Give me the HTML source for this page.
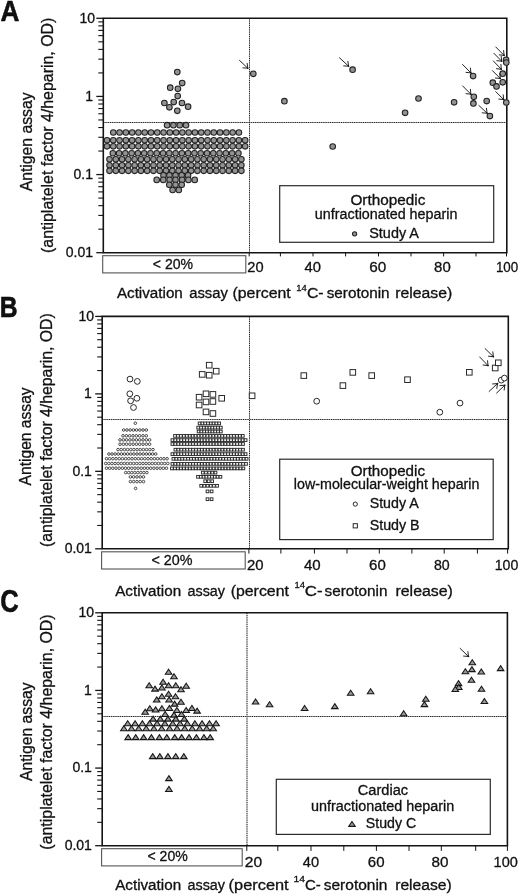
<!DOCTYPE html>
<html><head><meta charset="utf-8"><style>html,body{margin:0;padding:0;background:#fff;width:520px;height:894px;overflow:hidden}svg{display:block;filter:grayscale(1)}text{stroke:#111;stroke-width:0.3px}</style></head><body>
<svg width="520" height="894" viewBox="0 0 520 894" font-family='"Liberation Sans", sans-serif' fill="#111">
<rect width="520" height="894" fill="#fff"/>
<text transform="translate(0.470,20.775) scale(0.2619,0.2877)" font-size="100" font-weight="bold" style="stroke:#000;stroke-width:1.72px;stroke-linejoin:round">A</text>
<text transform="translate(-0.179,317.275) scale(0.2467,0.2862)" font-size="100" font-weight="bold" style="stroke:#000;stroke-width:1.82px;stroke-linejoin:round">B</text>
<text transform="translate(0.202,611.967) scale(0.2557,0.3077)" font-size="100" font-weight="bold" style="stroke:#000;stroke-width:1.76px;stroke-linejoin:round">C</text>
<line x1="103.3" y1="122.5" x2="506.8" y2="122.5" stroke="#bdbdbd" stroke-width="1"/>
<line x1="103.3" y1="122.5" x2="506.8" y2="122.5" stroke="#222" stroke-width="1" stroke-dasharray="1.2 1"/>
<line x1="249.5" y1="18.3" x2="249.5" y2="252.7" stroke="#cfcfcf" stroke-width="1"/>
<line x1="249.5" y1="18.3" x2="249.5" y2="252.7" stroke="#222" stroke-width="1" stroke-dasharray="1.2 1"/>
<path d="M103.3 252.7 V18.3 H506.8 V252.7 Z" fill="none" stroke="#141414" stroke-width="1.6"/>
<line x1="96.3" y1="252.70" x2="103.3" y2="252.70" stroke="#141414" stroke-width="1.3"/>
<line x1="98.3" y1="229.18" x2="103.3" y2="229.18" stroke="#141414" stroke-width="1.1"/>
<line x1="98.3" y1="215.42" x2="103.3" y2="215.42" stroke="#141414" stroke-width="1.1"/>
<line x1="98.3" y1="205.66" x2="103.3" y2="205.66" stroke="#141414" stroke-width="1.1"/>
<line x1="98.3" y1="198.09" x2="103.3" y2="198.09" stroke="#141414" stroke-width="1.1"/>
<line x1="98.3" y1="191.90" x2="103.3" y2="191.90" stroke="#141414" stroke-width="1.1"/>
<line x1="98.3" y1="186.67" x2="103.3" y2="186.67" stroke="#141414" stroke-width="1.1"/>
<line x1="98.3" y1="182.14" x2="103.3" y2="182.14" stroke="#141414" stroke-width="1.1"/>
<line x1="98.3" y1="178.14" x2="103.3" y2="178.14" stroke="#141414" stroke-width="1.1"/>
<line x1="96.3" y1="174.57" x2="103.3" y2="174.57" stroke="#141414" stroke-width="1.3"/>
<line x1="98.3" y1="151.05" x2="103.3" y2="151.05" stroke="#141414" stroke-width="1.1"/>
<line x1="98.3" y1="137.29" x2="103.3" y2="137.29" stroke="#141414" stroke-width="1.1"/>
<line x1="98.3" y1="127.53" x2="103.3" y2="127.53" stroke="#141414" stroke-width="1.1"/>
<line x1="98.3" y1="119.95" x2="103.3" y2="119.95" stroke="#141414" stroke-width="1.1"/>
<line x1="98.3" y1="113.77" x2="103.3" y2="113.77" stroke="#141414" stroke-width="1.1"/>
<line x1="98.3" y1="108.54" x2="103.3" y2="108.54" stroke="#141414" stroke-width="1.1"/>
<line x1="98.3" y1="104.01" x2="103.3" y2="104.01" stroke="#141414" stroke-width="1.1"/>
<line x1="98.3" y1="100.01" x2="103.3" y2="100.01" stroke="#141414" stroke-width="1.1"/>
<line x1="96.3" y1="96.43" x2="103.3" y2="96.43" stroke="#141414" stroke-width="1.3"/>
<line x1="98.3" y1="72.91" x2="103.3" y2="72.91" stroke="#141414" stroke-width="1.1"/>
<line x1="98.3" y1="59.15" x2="103.3" y2="59.15" stroke="#141414" stroke-width="1.1"/>
<line x1="98.3" y1="49.39" x2="103.3" y2="49.39" stroke="#141414" stroke-width="1.1"/>
<line x1="98.3" y1="41.82" x2="103.3" y2="41.82" stroke="#141414" stroke-width="1.1"/>
<line x1="98.3" y1="35.63" x2="103.3" y2="35.63" stroke="#141414" stroke-width="1.1"/>
<line x1="98.3" y1="30.40" x2="103.3" y2="30.40" stroke="#141414" stroke-width="1.1"/>
<line x1="98.3" y1="25.87" x2="103.3" y2="25.87" stroke="#141414" stroke-width="1.1"/>
<line x1="98.3" y1="21.88" x2="103.3" y2="21.88" stroke="#141414" stroke-width="1.1"/>
<line x1="96.3" y1="18.30" x2="103.3" y2="18.30" stroke="#141414" stroke-width="1.3"/>
<line x1="249.20" y1="252.7" x2="249.20" y2="256.4" stroke="#141414" stroke-width="1.0"/>
<line x1="280.40" y1="252.7" x2="280.40" y2="256.4" stroke="#141414" stroke-width="1.0"/>
<line x1="313.00" y1="252.7" x2="313.00" y2="256.4" stroke="#141414" stroke-width="1.0"/>
<line x1="345.60" y1="252.7" x2="345.60" y2="256.4" stroke="#141414" stroke-width="1.0"/>
<line x1="378.50" y1="252.7" x2="378.50" y2="256.4" stroke="#141414" stroke-width="1.0"/>
<line x1="411.00" y1="252.7" x2="411.00" y2="256.4" stroke="#141414" stroke-width="1.0"/>
<line x1="443.60" y1="252.7" x2="443.60" y2="256.4" stroke="#141414" stroke-width="1.0"/>
<line x1="476.00" y1="252.7" x2="476.00" y2="256.4" stroke="#141414" stroke-width="1.0"/>
<line x1="506.50" y1="252.7" x2="506.50" y2="256.4" stroke="#141414" stroke-width="1.0"/>
<text x="95.10" y="22.50" font-size="14" text-anchor="end">10</text>
<text x="93.00" y="100.63" font-size="14" text-anchor="end">1</text>
<text x="93.00" y="178.77" font-size="14" text-anchor="end">0.1</text>
<text x="93.00" y="256.90" font-size="14" text-anchor="end">0.01</text>
<text x="247.27" y="271.50" font-size="14.5" textLength="16.28" lengthAdjust="spacingAndGlyphs">20</text>
<text x="304.60" y="271.50" font-size="14.5" textLength="16.45" lengthAdjust="spacingAndGlyphs">40</text>
<text x="369.33" y="271.50" font-size="14.5" textLength="17.04" lengthAdjust="spacingAndGlyphs">60</text>
<text x="434.13" y="271.50" font-size="14.5" textLength="16.63" lengthAdjust="spacingAndGlyphs">80</text>
<text x="495.90" y="271.50" font-size="14.5" textLength="22.32" lengthAdjust="spacingAndGlyphs">100</text>
<rect x="102.7" y="255.70" width="143.10" height="17.2" fill="none" stroke="#555" stroke-width="1.1"/>
<text x="152.80" y="269.30" font-size="14.5" textLength="40.27" lengthAdjust="spacingAndGlyphs">&lt; 20%</text>
<text transform="translate(31.80,191.30) rotate(-90)" font-size="16" textLength="98.93" lengthAdjust="spacingAndGlyphs">Antigen assay</text>
<text transform="translate(52.50,252.95) rotate(-90)" font-size="16" textLength="235.30" lengthAdjust="spacingAndGlyphs">(antiplatelet factor 4/heparin, OD)</text>
<text x="116.90" y="298.20" font-size="14" textLength="65.90" lengthAdjust="spacingAndGlyphs">Activation</text>
<text x="189.21" y="298.20" font-size="14" textLength="38.63" lengthAdjust="spacingAndGlyphs">assay</text>
<text x="232.45" y="298.20" font-size="14" textLength="58.29" lengthAdjust="spacingAndGlyphs">(percent</text>
<text x="306.91" y="298.20" font-size="14" textLength="16.71" lengthAdjust="spacingAndGlyphs">C-</text>
<text x="326.74" y="298.20" font-size="14" textLength="62.83" lengthAdjust="spacingAndGlyphs">serotonin</text>
<text x="395.17" y="298.20" font-size="14" textLength="57.02" lengthAdjust="spacingAndGlyphs">release)</text>
<text x="296.19" y="290.60" font-size="9.8" textLength="10.51" lengthAdjust="spacingAndGlyphs">14</text>
<rect x="279.7" y="185.7" width="214" height="56.6" fill="#fff" stroke="#2a2a2a" stroke-width="1.2"/>
<text x="350.41" y="204.80" font-size="14" textLength="75.00" lengthAdjust="spacingAndGlyphs">Orthopedic</text>
<text x="314.87" y="219.20" font-size="14" textLength="142.49" lengthAdjust="spacingAndGlyphs">unfractionated heparin</text>
<text x="369.25" y="237.50" font-size="14" textLength="49.68" lengthAdjust="spacingAndGlyphs">Study A</text>
<circle cx="354.6" cy="233.8" r="2.1" fill="#939393" stroke="#222" stroke-width="1.05"/>
<circle cx="177.3" cy="72.1" r="2.8" fill="#939393" stroke="#222" stroke-width="1.05"/>
<circle cx="182.2" cy="83.1" r="2.8" fill="#939393" stroke="#222" stroke-width="1.05"/>
<circle cx="170.2" cy="87.7" r="2.8" fill="#939393" stroke="#222" stroke-width="1.05"/>
<circle cx="177.9" cy="88.8" r="2.8" fill="#939393" stroke="#222" stroke-width="1.05"/>
<circle cx="177.7" cy="96.1" r="2.8" fill="#939393" stroke="#222" stroke-width="1.05"/>
<circle cx="164.4" cy="103" r="2.8" fill="#939393" stroke="#222" stroke-width="1.05"/>
<circle cx="173.7" cy="102.1" r="2.8" fill="#939393" stroke="#222" stroke-width="1.05"/>
<circle cx="182" cy="103" r="2.8" fill="#939393" stroke="#222" stroke-width="1.05"/>
<circle cx="169.4" cy="107.3" r="2.8" fill="#939393" stroke="#222" stroke-width="1.05"/>
<circle cx="188.1" cy="106.7" r="2.8" fill="#939393" stroke="#222" stroke-width="1.05"/>
<circle cx="177.3" cy="110.8" r="2.8" fill="#939393" stroke="#222" stroke-width="1.05"/>
<circle cx="167.1" cy="125.2" r="2.8" fill="#939393" stroke="#222" stroke-width="1.05"/>
<circle cx="173.4" cy="125.2" r="2.8" fill="#939393" stroke="#222" stroke-width="1.05"/>
<circle cx="179.7" cy="125.2" r="2.8" fill="#939393" stroke="#222" stroke-width="1.05"/>
<circle cx="186" cy="125.2" r="2.8" fill="#939393" stroke="#222" stroke-width="1.05"/>
<circle cx="113.3" cy="132.5" r="2.8" fill="#939393" stroke="#222" stroke-width="1.05"/>
<circle cx="119.58" cy="132.5" r="2.8" fill="#939393" stroke="#222" stroke-width="1.05"/>
<circle cx="125.86" cy="132.5" r="2.8" fill="#939393" stroke="#222" stroke-width="1.05"/>
<circle cx="132.14" cy="132.5" r="2.8" fill="#939393" stroke="#222" stroke-width="1.05"/>
<circle cx="138.42" cy="132.5" r="2.8" fill="#939393" stroke="#222" stroke-width="1.05"/>
<circle cx="144.7" cy="132.5" r="2.8" fill="#939393" stroke="#222" stroke-width="1.05"/>
<circle cx="150.98" cy="132.5" r="2.8" fill="#939393" stroke="#222" stroke-width="1.05"/>
<circle cx="157.26" cy="132.5" r="2.8" fill="#939393" stroke="#222" stroke-width="1.05"/>
<circle cx="163.54" cy="132.5" r="2.8" fill="#939393" stroke="#222" stroke-width="1.05"/>
<circle cx="169.82" cy="132.5" r="2.8" fill="#939393" stroke="#222" stroke-width="1.05"/>
<circle cx="176.1" cy="132.5" r="2.8" fill="#939393" stroke="#222" stroke-width="1.05"/>
<circle cx="182.38" cy="132.5" r="2.8" fill="#939393" stroke="#222" stroke-width="1.05"/>
<circle cx="188.66" cy="132.5" r="2.8" fill="#939393" stroke="#222" stroke-width="1.05"/>
<circle cx="194.94" cy="132.5" r="2.8" fill="#939393" stroke="#222" stroke-width="1.05"/>
<circle cx="201.22" cy="132.5" r="2.8" fill="#939393" stroke="#222" stroke-width="1.05"/>
<circle cx="207.5" cy="132.5" r="2.8" fill="#939393" stroke="#222" stroke-width="1.05"/>
<circle cx="213.78" cy="132.5" r="2.8" fill="#939393" stroke="#222" stroke-width="1.05"/>
<circle cx="220.06" cy="132.5" r="2.8" fill="#939393" stroke="#222" stroke-width="1.05"/>
<circle cx="226.34" cy="132.5" r="2.8" fill="#939393" stroke="#222" stroke-width="1.05"/>
<circle cx="232.62" cy="132.5" r="2.8" fill="#939393" stroke="#222" stroke-width="1.05"/>
<circle cx="238.9" cy="132.5" r="2.8" fill="#939393" stroke="#222" stroke-width="1.05"/>
<circle cx="107.0" cy="140.3" r="2.8" fill="#939393" stroke="#222" stroke-width="1.05"/>
<circle cx="113.28" cy="140.3" r="2.8" fill="#939393" stroke="#222" stroke-width="1.05"/>
<circle cx="119.56" cy="140.3" r="2.8" fill="#939393" stroke="#222" stroke-width="1.05"/>
<circle cx="125.84" cy="140.3" r="2.8" fill="#939393" stroke="#222" stroke-width="1.05"/>
<circle cx="132.12" cy="140.3" r="2.8" fill="#939393" stroke="#222" stroke-width="1.05"/>
<circle cx="138.4" cy="140.3" r="2.8" fill="#939393" stroke="#222" stroke-width="1.05"/>
<circle cx="144.68" cy="140.3" r="2.8" fill="#939393" stroke="#222" stroke-width="1.05"/>
<circle cx="150.96" cy="140.3" r="2.8" fill="#939393" stroke="#222" stroke-width="1.05"/>
<circle cx="157.24" cy="140.3" r="2.8" fill="#939393" stroke="#222" stroke-width="1.05"/>
<circle cx="163.52" cy="140.3" r="2.8" fill="#939393" stroke="#222" stroke-width="1.05"/>
<circle cx="169.8" cy="140.3" r="2.8" fill="#939393" stroke="#222" stroke-width="1.05"/>
<circle cx="176.08" cy="140.3" r="2.8" fill="#939393" stroke="#222" stroke-width="1.05"/>
<circle cx="182.36" cy="140.3" r="2.8" fill="#939393" stroke="#222" stroke-width="1.05"/>
<circle cx="188.64" cy="140.3" r="2.8" fill="#939393" stroke="#222" stroke-width="1.05"/>
<circle cx="194.92" cy="140.3" r="2.8" fill="#939393" stroke="#222" stroke-width="1.05"/>
<circle cx="201.2" cy="140.3" r="2.8" fill="#939393" stroke="#222" stroke-width="1.05"/>
<circle cx="207.48" cy="140.3" r="2.8" fill="#939393" stroke="#222" stroke-width="1.05"/>
<circle cx="213.76" cy="140.3" r="2.8" fill="#939393" stroke="#222" stroke-width="1.05"/>
<circle cx="220.04" cy="140.3" r="2.8" fill="#939393" stroke="#222" stroke-width="1.05"/>
<circle cx="226.32" cy="140.3" r="2.8" fill="#939393" stroke="#222" stroke-width="1.05"/>
<circle cx="232.6" cy="140.3" r="2.8" fill="#939393" stroke="#222" stroke-width="1.05"/>
<circle cx="238.88" cy="140.3" r="2.8" fill="#939393" stroke="#222" stroke-width="1.05"/>
<circle cx="245.16" cy="140.3" r="2.8" fill="#939393" stroke="#222" stroke-width="1.05"/>
<circle cx="107.0" cy="146.3" r="2.8" fill="#939393" stroke="#222" stroke-width="1.05"/>
<circle cx="113.28" cy="146.3" r="2.8" fill="#939393" stroke="#222" stroke-width="1.05"/>
<circle cx="119.56" cy="146.3" r="2.8" fill="#939393" stroke="#222" stroke-width="1.05"/>
<circle cx="125.84" cy="146.3" r="2.8" fill="#939393" stroke="#222" stroke-width="1.05"/>
<circle cx="132.12" cy="146.3" r="2.8" fill="#939393" stroke="#222" stroke-width="1.05"/>
<circle cx="138.4" cy="146.3" r="2.8" fill="#939393" stroke="#222" stroke-width="1.05"/>
<circle cx="144.68" cy="146.3" r="2.8" fill="#939393" stroke="#222" stroke-width="1.05"/>
<circle cx="150.96" cy="146.3" r="2.8" fill="#939393" stroke="#222" stroke-width="1.05"/>
<circle cx="157.24" cy="146.3" r="2.8" fill="#939393" stroke="#222" stroke-width="1.05"/>
<circle cx="163.52" cy="146.3" r="2.8" fill="#939393" stroke="#222" stroke-width="1.05"/>
<circle cx="169.8" cy="146.3" r="2.8" fill="#939393" stroke="#222" stroke-width="1.05"/>
<circle cx="176.08" cy="146.3" r="2.8" fill="#939393" stroke="#222" stroke-width="1.05"/>
<circle cx="182.36" cy="146.3" r="2.8" fill="#939393" stroke="#222" stroke-width="1.05"/>
<circle cx="188.64" cy="146.3" r="2.8" fill="#939393" stroke="#222" stroke-width="1.05"/>
<circle cx="194.92" cy="146.3" r="2.8" fill="#939393" stroke="#222" stroke-width="1.05"/>
<circle cx="201.2" cy="146.3" r="2.8" fill="#939393" stroke="#222" stroke-width="1.05"/>
<circle cx="207.48" cy="146.3" r="2.8" fill="#939393" stroke="#222" stroke-width="1.05"/>
<circle cx="213.76" cy="146.3" r="2.8" fill="#939393" stroke="#222" stroke-width="1.05"/>
<circle cx="220.04" cy="146.3" r="2.8" fill="#939393" stroke="#222" stroke-width="1.05"/>
<circle cx="226.32" cy="146.3" r="2.8" fill="#939393" stroke="#222" stroke-width="1.05"/>
<circle cx="232.6" cy="146.3" r="2.8" fill="#939393" stroke="#222" stroke-width="1.05"/>
<circle cx="238.88" cy="146.3" r="2.8" fill="#939393" stroke="#222" stroke-width="1.05"/>
<circle cx="245.16" cy="146.3" r="2.8" fill="#939393" stroke="#222" stroke-width="1.05"/>
<circle cx="112.8" cy="153.2" r="2.8" fill="#939393" stroke="#222" stroke-width="1.05"/>
<circle cx="119.08" cy="153.2" r="2.8" fill="#939393" stroke="#222" stroke-width="1.05"/>
<circle cx="125.36" cy="153.2" r="2.8" fill="#939393" stroke="#222" stroke-width="1.05"/>
<circle cx="131.64" cy="153.2" r="2.8" fill="#939393" stroke="#222" stroke-width="1.05"/>
<circle cx="137.92" cy="153.2" r="2.8" fill="#939393" stroke="#222" stroke-width="1.05"/>
<circle cx="144.2" cy="153.2" r="2.8" fill="#939393" stroke="#222" stroke-width="1.05"/>
<circle cx="150.48" cy="153.2" r="2.8" fill="#939393" stroke="#222" stroke-width="1.05"/>
<circle cx="156.76" cy="153.2" r="2.8" fill="#939393" stroke="#222" stroke-width="1.05"/>
<circle cx="163.04" cy="153.2" r="2.8" fill="#939393" stroke="#222" stroke-width="1.05"/>
<circle cx="169.32" cy="153.2" r="2.8" fill="#939393" stroke="#222" stroke-width="1.05"/>
<circle cx="175.6" cy="153.2" r="2.8" fill="#939393" stroke="#222" stroke-width="1.05"/>
<circle cx="181.88" cy="153.2" r="2.8" fill="#939393" stroke="#222" stroke-width="1.05"/>
<circle cx="188.16" cy="153.2" r="2.8" fill="#939393" stroke="#222" stroke-width="1.05"/>
<circle cx="194.44" cy="153.2" r="2.8" fill="#939393" stroke="#222" stroke-width="1.05"/>
<circle cx="200.72" cy="153.2" r="2.8" fill="#939393" stroke="#222" stroke-width="1.05"/>
<circle cx="207.0" cy="153.2" r="2.8" fill="#939393" stroke="#222" stroke-width="1.05"/>
<circle cx="213.28" cy="153.2" r="2.8" fill="#939393" stroke="#222" stroke-width="1.05"/>
<circle cx="219.56" cy="153.2" r="2.8" fill="#939393" stroke="#222" stroke-width="1.05"/>
<circle cx="225.84" cy="153.2" r="2.8" fill="#939393" stroke="#222" stroke-width="1.05"/>
<circle cx="232.12" cy="153.2" r="2.8" fill="#939393" stroke="#222" stroke-width="1.05"/>
<circle cx="238.4" cy="153.2" r="2.8" fill="#939393" stroke="#222" stroke-width="1.05"/>
<circle cx="109.5" cy="159.2" r="2.8" fill="#939393" stroke="#222" stroke-width="1.05"/>
<circle cx="115.78" cy="159.2" r="2.8" fill="#939393" stroke="#222" stroke-width="1.05"/>
<circle cx="122.06" cy="159.2" r="2.8" fill="#939393" stroke="#222" stroke-width="1.05"/>
<circle cx="128.34" cy="159.2" r="2.8" fill="#939393" stroke="#222" stroke-width="1.05"/>
<circle cx="134.62" cy="159.2" r="2.8" fill="#939393" stroke="#222" stroke-width="1.05"/>
<circle cx="140.9" cy="159.2" r="2.8" fill="#939393" stroke="#222" stroke-width="1.05"/>
<circle cx="147.18" cy="159.2" r="2.8" fill="#939393" stroke="#222" stroke-width="1.05"/>
<circle cx="153.46" cy="159.2" r="2.8" fill="#939393" stroke="#222" stroke-width="1.05"/>
<circle cx="159.74" cy="159.2" r="2.8" fill="#939393" stroke="#222" stroke-width="1.05"/>
<circle cx="166.02" cy="159.2" r="2.8" fill="#939393" stroke="#222" stroke-width="1.05"/>
<circle cx="172.3" cy="159.2" r="2.8" fill="#939393" stroke="#222" stroke-width="1.05"/>
<circle cx="178.58" cy="159.2" r="2.8" fill="#939393" stroke="#222" stroke-width="1.05"/>
<circle cx="184.86" cy="159.2" r="2.8" fill="#939393" stroke="#222" stroke-width="1.05"/>
<circle cx="191.14" cy="159.2" r="2.8" fill="#939393" stroke="#222" stroke-width="1.05"/>
<circle cx="197.42" cy="159.2" r="2.8" fill="#939393" stroke="#222" stroke-width="1.05"/>
<circle cx="203.7" cy="159.2" r="2.8" fill="#939393" stroke="#222" stroke-width="1.05"/>
<circle cx="209.98" cy="159.2" r="2.8" fill="#939393" stroke="#222" stroke-width="1.05"/>
<circle cx="216.26" cy="159.2" r="2.8" fill="#939393" stroke="#222" stroke-width="1.05"/>
<circle cx="222.54" cy="159.2" r="2.8" fill="#939393" stroke="#222" stroke-width="1.05"/>
<circle cx="228.82" cy="159.2" r="2.8" fill="#939393" stroke="#222" stroke-width="1.05"/>
<circle cx="235.1" cy="159.2" r="2.8" fill="#939393" stroke="#222" stroke-width="1.05"/>
<circle cx="241.38" cy="159.2" r="2.8" fill="#939393" stroke="#222" stroke-width="1.05"/>
<circle cx="109.5" cy="165.2" r="2.8" fill="#939393" stroke="#222" stroke-width="1.05"/>
<circle cx="115.78" cy="165.2" r="2.8" fill="#939393" stroke="#222" stroke-width="1.05"/>
<circle cx="122.06" cy="165.2" r="2.8" fill="#939393" stroke="#222" stroke-width="1.05"/>
<circle cx="128.34" cy="165.2" r="2.8" fill="#939393" stroke="#222" stroke-width="1.05"/>
<circle cx="134.62" cy="165.2" r="2.8" fill="#939393" stroke="#222" stroke-width="1.05"/>
<circle cx="140.9" cy="165.2" r="2.8" fill="#939393" stroke="#222" stroke-width="1.05"/>
<circle cx="147.18" cy="165.2" r="2.8" fill="#939393" stroke="#222" stroke-width="1.05"/>
<circle cx="153.46" cy="165.2" r="2.8" fill="#939393" stroke="#222" stroke-width="1.05"/>
<circle cx="159.74" cy="165.2" r="2.8" fill="#939393" stroke="#222" stroke-width="1.05"/>
<circle cx="166.02" cy="165.2" r="2.8" fill="#939393" stroke="#222" stroke-width="1.05"/>
<circle cx="172.3" cy="165.2" r="2.8" fill="#939393" stroke="#222" stroke-width="1.05"/>
<circle cx="178.58" cy="165.2" r="2.8" fill="#939393" stroke="#222" stroke-width="1.05"/>
<circle cx="184.86" cy="165.2" r="2.8" fill="#939393" stroke="#222" stroke-width="1.05"/>
<circle cx="191.14" cy="165.2" r="2.8" fill="#939393" stroke="#222" stroke-width="1.05"/>
<circle cx="197.42" cy="165.2" r="2.8" fill="#939393" stroke="#222" stroke-width="1.05"/>
<circle cx="203.7" cy="165.2" r="2.8" fill="#939393" stroke="#222" stroke-width="1.05"/>
<circle cx="209.98" cy="165.2" r="2.8" fill="#939393" stroke="#222" stroke-width="1.05"/>
<circle cx="216.26" cy="165.2" r="2.8" fill="#939393" stroke="#222" stroke-width="1.05"/>
<circle cx="222.54" cy="165.2" r="2.8" fill="#939393" stroke="#222" stroke-width="1.05"/>
<circle cx="228.82" cy="165.2" r="2.8" fill="#939393" stroke="#222" stroke-width="1.05"/>
<circle cx="235.1" cy="165.2" r="2.8" fill="#939393" stroke="#222" stroke-width="1.05"/>
<circle cx="241.38" cy="165.2" r="2.8" fill="#939393" stroke="#222" stroke-width="1.05"/>
<circle cx="109.5" cy="170.8" r="2.8" fill="#939393" stroke="#222" stroke-width="1.05"/>
<circle cx="115.78" cy="170.8" r="2.8" fill="#939393" stroke="#222" stroke-width="1.05"/>
<circle cx="122.06" cy="170.8" r="2.8" fill="#939393" stroke="#222" stroke-width="1.05"/>
<circle cx="128.34" cy="170.8" r="2.8" fill="#939393" stroke="#222" stroke-width="1.05"/>
<circle cx="134.62" cy="170.8" r="2.8" fill="#939393" stroke="#222" stroke-width="1.05"/>
<circle cx="140.9" cy="170.8" r="2.8" fill="#939393" stroke="#222" stroke-width="1.05"/>
<circle cx="147.18" cy="170.8" r="2.8" fill="#939393" stroke="#222" stroke-width="1.05"/>
<circle cx="153.46" cy="170.8" r="2.8" fill="#939393" stroke="#222" stroke-width="1.05"/>
<circle cx="159.74" cy="170.8" r="2.8" fill="#939393" stroke="#222" stroke-width="1.05"/>
<circle cx="166.02" cy="170.8" r="2.8" fill="#939393" stroke="#222" stroke-width="1.05"/>
<circle cx="172.3" cy="170.8" r="2.8" fill="#939393" stroke="#222" stroke-width="1.05"/>
<circle cx="178.58" cy="170.8" r="2.8" fill="#939393" stroke="#222" stroke-width="1.05"/>
<circle cx="184.86" cy="170.8" r="2.8" fill="#939393" stroke="#222" stroke-width="1.05"/>
<circle cx="191.14" cy="170.8" r="2.8" fill="#939393" stroke="#222" stroke-width="1.05"/>
<circle cx="197.42" cy="170.8" r="2.8" fill="#939393" stroke="#222" stroke-width="1.05"/>
<circle cx="203.7" cy="170.8" r="2.8" fill="#939393" stroke="#222" stroke-width="1.05"/>
<circle cx="209.98" cy="170.8" r="2.8" fill="#939393" stroke="#222" stroke-width="1.05"/>
<circle cx="216.26" cy="170.8" r="2.8" fill="#939393" stroke="#222" stroke-width="1.05"/>
<circle cx="222.54" cy="170.8" r="2.8" fill="#939393" stroke="#222" stroke-width="1.05"/>
<circle cx="228.82" cy="170.8" r="2.8" fill="#939393" stroke="#222" stroke-width="1.05"/>
<circle cx="235.1" cy="170.8" r="2.8" fill="#939393" stroke="#222" stroke-width="1.05"/>
<circle cx="241.38" cy="170.8" r="2.8" fill="#939393" stroke="#222" stroke-width="1.05"/>
<circle cx="163.5" cy="175.4" r="2.8" fill="#939393" stroke="#222" stroke-width="1.05"/>
<circle cx="169.4" cy="175.4" r="2.8" fill="#939393" stroke="#222" stroke-width="1.05"/>
<circle cx="175.5" cy="175.4" r="2.8" fill="#939393" stroke="#222" stroke-width="1.05"/>
<circle cx="181.7" cy="175.4" r="2.8" fill="#939393" stroke="#222" stroke-width="1.05"/>
<circle cx="188" cy="175.4" r="2.8" fill="#939393" stroke="#222" stroke-width="1.05"/>
<circle cx="156.7" cy="179.9" r="2.8" fill="#939393" stroke="#222" stroke-width="1.05"/>
<circle cx="163.3" cy="179.9" r="2.8" fill="#939393" stroke="#222" stroke-width="1.05"/>
<circle cx="169.6" cy="179.9" r="2.8" fill="#939393" stroke="#222" stroke-width="1.05"/>
<circle cx="175.5" cy="179.9" r="2.8" fill="#939393" stroke="#222" stroke-width="1.05"/>
<circle cx="182.1" cy="179.9" r="2.8" fill="#939393" stroke="#222" stroke-width="1.05"/>
<circle cx="188.4" cy="179.9" r="2.8" fill="#939393" stroke="#222" stroke-width="1.05"/>
<circle cx="194.7" cy="179.9" r="2.8" fill="#939393" stroke="#222" stroke-width="1.05"/>
<circle cx="169.3" cy="184.7" r="2.8" fill="#939393" stroke="#222" stroke-width="1.05"/>
<circle cx="175.5" cy="184.7" r="2.8" fill="#939393" stroke="#222" stroke-width="1.05"/>
<circle cx="181.7" cy="184.7" r="2.8" fill="#939393" stroke="#222" stroke-width="1.05"/>
<circle cx="172.6" cy="190.0" r="2.8" fill="#939393" stroke="#222" stroke-width="1.05"/>
<circle cx="178.8" cy="190.0" r="2.8" fill="#939393" stroke="#222" stroke-width="1.05"/>
<circle cx="253.3" cy="73.8" r="2.8" fill="#939393" stroke="#222" stroke-width="1.05"/>
<circle cx="352.6" cy="69.7" r="2.8" fill="#939393" stroke="#222" stroke-width="1.05"/>
<circle cx="284.4" cy="101.2" r="2.8" fill="#939393" stroke="#222" stroke-width="1.05"/>
<circle cx="332.7" cy="146.5" r="2.8" fill="#939393" stroke="#222" stroke-width="1.05"/>
<circle cx="405.1" cy="112.8" r="2.8" fill="#939393" stroke="#222" stroke-width="1.05"/>
<circle cx="418.5" cy="98.5" r="2.8" fill="#939393" stroke="#222" stroke-width="1.05"/>
<circle cx="454.1" cy="102.3" r="2.8" fill="#939393" stroke="#222" stroke-width="1.05"/>
<circle cx="473.1" cy="76.1" r="2.8" fill="#939393" stroke="#222" stroke-width="1.05"/>
<circle cx="473.8" cy="96.8" r="2.8" fill="#939393" stroke="#222" stroke-width="1.05"/>
<circle cx="473.4" cy="103.4" r="2.8" fill="#939393" stroke="#222" stroke-width="1.05"/>
<circle cx="486.7" cy="101.1" r="2.8" fill="#939393" stroke="#222" stroke-width="1.05"/>
<circle cx="489.9" cy="116.1" r="2.8" fill="#939393" stroke="#222" stroke-width="1.05"/>
<circle cx="492.8" cy="82.7" r="2.8" fill="#939393" stroke="#222" stroke-width="1.05"/>
<circle cx="496.5" cy="86.4" r="2.8" fill="#939393" stroke="#222" stroke-width="1.05"/>
<circle cx="502.7" cy="73.7" r="2.8" fill="#939393" stroke="#222" stroke-width="1.05"/>
<circle cx="502.7" cy="82.3" r="2.8" fill="#939393" stroke="#222" stroke-width="1.05"/>
<circle cx="506.1" cy="59.7" r="2.8" fill="#939393" stroke="#222" stroke-width="1.05"/>
<circle cx="506.3" cy="62.6" r="2.8" fill="#939393" stroke="#222" stroke-width="1.05"/>
<circle cx="506.3" cy="102.5" r="2.8" fill="#939393" stroke="#222" stroke-width="1.05"/>
<path d="M239.2 60.1 L247.8 68.2 M242.52 67.80 L247.8 68.2 L247.08 62.95" fill="none" stroke="#1a1a1a" stroke-width="0.95" stroke-linejoin="round"/>
<circle cx="247.8" cy="68.2" r="0.8" fill="#111"/>
<path d="M339.2 57.5 L348.6 66.2 M343.31 65.85 L348.6 66.2 L347.84 60.95" fill="none" stroke="#1a1a1a" stroke-width="0.95" stroke-linejoin="round"/>
<circle cx="348.6" cy="66.2" r="0.8" fill="#111"/>
<path d="M462.3 64.2 L470.9 72.9 M465.63 72.31 L470.9 72.9 L470.37 67.63" fill="none" stroke="#1a1a1a" stroke-width="0.95" stroke-linejoin="round"/>
<circle cx="470.9" cy="72.9" r="0.8" fill="#111"/>
<path d="M462.3 85.6 L470.9 94.2 M465.63 93.64 L470.9 94.2 L470.34 88.93" fill="none" stroke="#1a1a1a" stroke-width="0.95" stroke-linejoin="round"/>
<circle cx="470.9" cy="94.2" r="0.8" fill="#111"/>
<path d="M478.6 105.2 L487.1 113.2 M481.81 112.80 L487.1 113.2 L486.38 107.95" fill="none" stroke="#1a1a1a" stroke-width="0.95" stroke-linejoin="round"/>
<circle cx="487.1" cy="113.2" r="0.8" fill="#111"/>
<path d="M495.5 46.7 L504.1 55.4 M498.83 54.81 L504.1 55.4 L503.57 50.13" fill="none" stroke="#1a1a1a" stroke-width="0.95" stroke-linejoin="round"/>
<circle cx="504.1" cy="55.4" r="0.8" fill="#111"/>
<path d="M493.6 53.0 L501.7 61.2 M496.43 60.61 L501.7 61.2 L501.17 55.93" fill="none" stroke="#1a1a1a" stroke-width="0.95" stroke-linejoin="round"/>
<circle cx="501.7" cy="61.2" r="0.8" fill="#111"/>
<path d="M493.1 60.7 L501.3 69.3 M496.04 68.62 L501.3 69.3 L500.87 64.02" fill="none" stroke="#1a1a1a" stroke-width="0.95" stroke-linejoin="round"/>
<circle cx="501.3" cy="69.3" r="0.8" fill="#111"/>
<path d="M492.1 70.3 L500.3 78.5 M495.03 77.94 L500.3 78.5 L499.74 73.23" fill="none" stroke="#1a1a1a" stroke-width="0.95" stroke-linejoin="round"/>
<circle cx="500.3" cy="78.5" r="0.8" fill="#111"/>
<path d="M495.5 91.4 L503.7 99.6 M498.43 99.04 L503.7 99.6 L503.14 94.33" fill="none" stroke="#1a1a1a" stroke-width="0.95" stroke-linejoin="round"/>
<circle cx="503.7" cy="99.6" r="0.8" fill="#111"/>
<line x1="102.2" y1="419.5" x2="508.3" y2="419.5" stroke="#bdbdbd" stroke-width="1"/>
<line x1="102.2" y1="419.5" x2="508.3" y2="419.5" stroke="#222" stroke-width="1" stroke-dasharray="1.2 1"/>
<line x1="249.5" y1="316.4" x2="249.5" y2="548.8" stroke="#cfcfcf" stroke-width="1"/>
<line x1="249.5" y1="316.4" x2="249.5" y2="548.8" stroke="#222" stroke-width="1" stroke-dasharray="1.2 1"/>
<path d="M102.2 548.8 V316.4 H508.3 V548.8 Z" fill="none" stroke="#141414" stroke-width="1.6"/>
<line x1="95.2" y1="548.80" x2="102.2" y2="548.80" stroke="#141414" stroke-width="1.3"/>
<line x1="97.2" y1="525.48" x2="102.2" y2="525.48" stroke="#141414" stroke-width="1.1"/>
<line x1="97.2" y1="511.84" x2="102.2" y2="511.84" stroke="#141414" stroke-width="1.1"/>
<line x1="97.2" y1="502.16" x2="102.2" y2="502.16" stroke="#141414" stroke-width="1.1"/>
<line x1="97.2" y1="494.65" x2="102.2" y2="494.65" stroke="#141414" stroke-width="1.1"/>
<line x1="97.2" y1="488.52" x2="102.2" y2="488.52" stroke="#141414" stroke-width="1.1"/>
<line x1="97.2" y1="483.33" x2="102.2" y2="483.33" stroke="#141414" stroke-width="1.1"/>
<line x1="97.2" y1="478.84" x2="102.2" y2="478.84" stroke="#141414" stroke-width="1.1"/>
<line x1="97.2" y1="474.88" x2="102.2" y2="474.88" stroke="#141414" stroke-width="1.1"/>
<line x1="95.2" y1="471.33" x2="102.2" y2="471.33" stroke="#141414" stroke-width="1.3"/>
<line x1="97.2" y1="448.01" x2="102.2" y2="448.01" stroke="#141414" stroke-width="1.1"/>
<line x1="97.2" y1="434.37" x2="102.2" y2="434.37" stroke="#141414" stroke-width="1.1"/>
<line x1="97.2" y1="424.69" x2="102.2" y2="424.69" stroke="#141414" stroke-width="1.1"/>
<line x1="97.2" y1="417.19" x2="102.2" y2="417.19" stroke="#141414" stroke-width="1.1"/>
<line x1="97.2" y1="411.05" x2="102.2" y2="411.05" stroke="#141414" stroke-width="1.1"/>
<line x1="97.2" y1="405.87" x2="102.2" y2="405.87" stroke="#141414" stroke-width="1.1"/>
<line x1="97.2" y1="401.37" x2="102.2" y2="401.37" stroke="#141414" stroke-width="1.1"/>
<line x1="97.2" y1="397.41" x2="102.2" y2="397.41" stroke="#141414" stroke-width="1.1"/>
<line x1="95.2" y1="393.87" x2="102.2" y2="393.87" stroke="#141414" stroke-width="1.3"/>
<line x1="97.2" y1="370.55" x2="102.2" y2="370.55" stroke="#141414" stroke-width="1.1"/>
<line x1="97.2" y1="356.91" x2="102.2" y2="356.91" stroke="#141414" stroke-width="1.1"/>
<line x1="97.2" y1="347.23" x2="102.2" y2="347.23" stroke="#141414" stroke-width="1.1"/>
<line x1="97.2" y1="339.72" x2="102.2" y2="339.72" stroke="#141414" stroke-width="1.1"/>
<line x1="97.2" y1="333.59" x2="102.2" y2="333.59" stroke="#141414" stroke-width="1.1"/>
<line x1="97.2" y1="328.40" x2="102.2" y2="328.40" stroke="#141414" stroke-width="1.1"/>
<line x1="97.2" y1="323.91" x2="102.2" y2="323.91" stroke="#141414" stroke-width="1.1"/>
<line x1="97.2" y1="319.94" x2="102.2" y2="319.94" stroke="#141414" stroke-width="1.1"/>
<line x1="95.2" y1="316.40" x2="102.2" y2="316.40" stroke="#141414" stroke-width="1.3"/>
<line x1="248.90" y1="548.8" x2="248.90" y2="553.5999999999999" stroke="#141414" stroke-width="1.0"/>
<line x1="280.90" y1="548.8" x2="280.90" y2="553.5999999999999" stroke="#141414" stroke-width="1.0"/>
<line x1="314.40" y1="548.8" x2="314.40" y2="553.5999999999999" stroke="#141414" stroke-width="1.0"/>
<line x1="347.00" y1="548.8" x2="347.00" y2="553.5999999999999" stroke="#141414" stroke-width="1.0"/>
<line x1="379.30" y1="548.8" x2="379.30" y2="553.5999999999999" stroke="#141414" stroke-width="1.0"/>
<line x1="411.90" y1="548.8" x2="411.90" y2="553.5999999999999" stroke="#141414" stroke-width="1.0"/>
<line x1="444.20" y1="548.8" x2="444.20" y2="553.5999999999999" stroke="#141414" stroke-width="1.0"/>
<line x1="477.40" y1="548.8" x2="477.40" y2="553.5999999999999" stroke="#141414" stroke-width="1.0"/>
<line x1="507.60" y1="548.8" x2="507.60" y2="553.5999999999999" stroke="#141414" stroke-width="1.0"/>
<text x="94.00" y="320.60" font-size="14" text-anchor="end">10</text>
<text x="91.90" y="398.07" font-size="14" text-anchor="end">1</text>
<text x="91.90" y="475.53" font-size="14" text-anchor="end">0.1</text>
<text x="91.90" y="553.00" font-size="14" text-anchor="end">0.01</text>
<text x="246.95" y="570.10" font-size="14.5" textLength="16.60" lengthAdjust="spacingAndGlyphs">20</text>
<text x="304.00" y="570.10" font-size="14.5" textLength="16.76" lengthAdjust="spacingAndGlyphs">40</text>
<text x="369.05" y="570.10" font-size="14.5" textLength="16.71" lengthAdjust="spacingAndGlyphs">60</text>
<text x="433.96" y="570.10" font-size="14.5" textLength="15.77" lengthAdjust="spacingAndGlyphs">80</text>
<text x="494.74" y="570.10" font-size="14.5" textLength="23.61" lengthAdjust="spacingAndGlyphs">100</text>
<rect x="101.60000000000001" y="551.80" width="143.60" height="17.2" fill="none" stroke="#555" stroke-width="1.1"/>
<text x="151.48" y="565.30" font-size="14.5" textLength="41.10" lengthAdjust="spacingAndGlyphs">&lt; 20%</text>
<text transform="translate(31.20,485.40) rotate(-90)" font-size="16" textLength="98.03" lengthAdjust="spacingAndGlyphs">Antigen assay</text>
<text transform="translate(52.00,546.95) rotate(-90)" font-size="16" textLength="233.68" lengthAdjust="spacingAndGlyphs">(antiplatelet factor 4/heparin, OD)</text>
<text x="115.20" y="595.60" font-size="14" textLength="65.90" lengthAdjust="spacingAndGlyphs">Activation</text>
<text x="187.53" y="595.60" font-size="14" textLength="37.51" lengthAdjust="spacingAndGlyphs">assay</text>
<text x="230.65" y="595.60" font-size="14" textLength="58.29" lengthAdjust="spacingAndGlyphs">(percent</text>
<text x="304.86" y="595.60" font-size="14" textLength="17.81" lengthAdjust="spacingAndGlyphs">C-</text>
<text x="324.54" y="595.60" font-size="14" textLength="62.94" lengthAdjust="spacingAndGlyphs">serotonin</text>
<text x="395.47" y="595.60" font-size="14" textLength="57.43" lengthAdjust="spacingAndGlyphs">release)</text>
<text x="294.39" y="588.00" font-size="9.8" textLength="10.51" lengthAdjust="spacingAndGlyphs">14</text>
<rect x="279.7" y="459.2" width="213.5" height="80.4" fill="#fff" stroke="#2a2a2a" stroke-width="1.2"/>
<text x="350.82" y="475.90" font-size="14" textLength="74.19" lengthAdjust="spacingAndGlyphs">Orthopedic</text>
<text x="293.87" y="489.00" font-size="14" textLength="185.57" lengthAdjust="spacingAndGlyphs">low-molecular-weight heparin</text>
<text x="369.66" y="508.00" font-size="14" textLength="49.07" lengthAdjust="spacingAndGlyphs">Study A</text>
<text x="369.66" y="529.60" font-size="14" textLength="49.98" lengthAdjust="spacingAndGlyphs">Study B</text>
<circle cx="355.3" cy="504.1" r="2.1" fill="#fff" stroke="#2a2a2a" stroke-width="1"/>
<rect x="353.20" y="523.70" width="4.2" height="4.2" fill="#fff" stroke="#2a2a2a" stroke-width="1"/>
<circle cx="135.3" cy="423.2" r="1.3" fill="#fff" stroke="#2a2a2a" stroke-width="0.85"/>
<circle cx="123.7" cy="430.0" r="1.3" fill="#fff" stroke="#2a2a2a" stroke-width="0.85"/>
<circle cx="126.93" cy="430.0" r="1.3" fill="#fff" stroke="#2a2a2a" stroke-width="0.85"/>
<circle cx="130.16" cy="430.0" r="1.3" fill="#fff" stroke="#2a2a2a" stroke-width="0.85"/>
<circle cx="133.39" cy="430.0" r="1.3" fill="#fff" stroke="#2a2a2a" stroke-width="0.85"/>
<circle cx="136.61" cy="430.0" r="1.3" fill="#fff" stroke="#2a2a2a" stroke-width="0.85"/>
<circle cx="139.84" cy="430.0" r="1.3" fill="#fff" stroke="#2a2a2a" stroke-width="0.85"/>
<circle cx="143.07" cy="430.0" r="1.3" fill="#fff" stroke="#2a2a2a" stroke-width="0.85"/>
<circle cx="146.3" cy="430.0" r="1.3" fill="#fff" stroke="#2a2a2a" stroke-width="0.85"/>
<circle cx="123.0" cy="435.8" r="1.3" fill="#fff" stroke="#2a2a2a" stroke-width="0.85"/>
<circle cx="126.33" cy="435.8" r="1.3" fill="#fff" stroke="#2a2a2a" stroke-width="0.85"/>
<circle cx="129.66" cy="435.8" r="1.3" fill="#fff" stroke="#2a2a2a" stroke-width="0.85"/>
<circle cx="132.99" cy="435.8" r="1.3" fill="#fff" stroke="#2a2a2a" stroke-width="0.85"/>
<circle cx="136.31" cy="435.8" r="1.3" fill="#fff" stroke="#2a2a2a" stroke-width="0.85"/>
<circle cx="139.64" cy="435.8" r="1.3" fill="#fff" stroke="#2a2a2a" stroke-width="0.85"/>
<circle cx="142.97" cy="435.8" r="1.3" fill="#fff" stroke="#2a2a2a" stroke-width="0.85"/>
<circle cx="146.3" cy="435.8" r="1.3" fill="#fff" stroke="#2a2a2a" stroke-width="0.85"/>
<circle cx="120.0" cy="439.9" r="1.3" fill="#fff" stroke="#2a2a2a" stroke-width="0.85"/>
<circle cx="123.29" cy="439.9" r="1.3" fill="#fff" stroke="#2a2a2a" stroke-width="0.85"/>
<circle cx="126.58" cy="439.9" r="1.3" fill="#fff" stroke="#2a2a2a" stroke-width="0.85"/>
<circle cx="129.87" cy="439.9" r="1.3" fill="#fff" stroke="#2a2a2a" stroke-width="0.85"/>
<circle cx="133.16" cy="439.9" r="1.3" fill="#fff" stroke="#2a2a2a" stroke-width="0.85"/>
<circle cx="136.44" cy="439.9" r="1.3" fill="#fff" stroke="#2a2a2a" stroke-width="0.85"/>
<circle cx="139.73" cy="439.9" r="1.3" fill="#fff" stroke="#2a2a2a" stroke-width="0.85"/>
<circle cx="143.02" cy="439.9" r="1.3" fill="#fff" stroke="#2a2a2a" stroke-width="0.85"/>
<circle cx="146.31" cy="439.9" r="1.3" fill="#fff" stroke="#2a2a2a" stroke-width="0.85"/>
<circle cx="149.6" cy="439.9" r="1.3" fill="#fff" stroke="#2a2a2a" stroke-width="0.85"/>
<circle cx="120.0" cy="444.2" r="1.3" fill="#fff" stroke="#2a2a2a" stroke-width="0.85"/>
<circle cx="123.29" cy="444.2" r="1.3" fill="#fff" stroke="#2a2a2a" stroke-width="0.85"/>
<circle cx="126.58" cy="444.2" r="1.3" fill="#fff" stroke="#2a2a2a" stroke-width="0.85"/>
<circle cx="129.87" cy="444.2" r="1.3" fill="#fff" stroke="#2a2a2a" stroke-width="0.85"/>
<circle cx="133.16" cy="444.2" r="1.3" fill="#fff" stroke="#2a2a2a" stroke-width="0.85"/>
<circle cx="136.44" cy="444.2" r="1.3" fill="#fff" stroke="#2a2a2a" stroke-width="0.85"/>
<circle cx="139.73" cy="444.2" r="1.3" fill="#fff" stroke="#2a2a2a" stroke-width="0.85"/>
<circle cx="143.02" cy="444.2" r="1.3" fill="#fff" stroke="#2a2a2a" stroke-width="0.85"/>
<circle cx="146.31" cy="444.2" r="1.3" fill="#fff" stroke="#2a2a2a" stroke-width="0.85"/>
<circle cx="149.6" cy="444.2" r="1.3" fill="#fff" stroke="#2a2a2a" stroke-width="0.85"/>
<circle cx="118.0" cy="449.6" r="1.3" fill="#fff" stroke="#2a2a2a" stroke-width="0.85"/>
<circle cx="121.18" cy="449.6" r="1.3" fill="#fff" stroke="#2a2a2a" stroke-width="0.85"/>
<circle cx="124.36" cy="449.6" r="1.3" fill="#fff" stroke="#2a2a2a" stroke-width="0.85"/>
<circle cx="127.55" cy="449.6" r="1.3" fill="#fff" stroke="#2a2a2a" stroke-width="0.85"/>
<circle cx="130.73" cy="449.6" r="1.3" fill="#fff" stroke="#2a2a2a" stroke-width="0.85"/>
<circle cx="133.91" cy="449.6" r="1.3" fill="#fff" stroke="#2a2a2a" stroke-width="0.85"/>
<circle cx="137.09" cy="449.6" r="1.3" fill="#fff" stroke="#2a2a2a" stroke-width="0.85"/>
<circle cx="140.27" cy="449.6" r="1.3" fill="#fff" stroke="#2a2a2a" stroke-width="0.85"/>
<circle cx="143.45" cy="449.6" r="1.3" fill="#fff" stroke="#2a2a2a" stroke-width="0.85"/>
<circle cx="146.64" cy="449.6" r="1.3" fill="#fff" stroke="#2a2a2a" stroke-width="0.85"/>
<circle cx="149.82" cy="449.6" r="1.3" fill="#fff" stroke="#2a2a2a" stroke-width="0.85"/>
<circle cx="153.0" cy="449.6" r="1.3" fill="#fff" stroke="#2a2a2a" stroke-width="0.85"/>
<circle cx="108.9" cy="454.0" r="1.3" fill="#fff" stroke="#2a2a2a" stroke-width="0.85"/>
<circle cx="112.02" cy="454.0" r="1.3" fill="#fff" stroke="#2a2a2a" stroke-width="0.85"/>
<circle cx="115.14" cy="454.0" r="1.3" fill="#fff" stroke="#2a2a2a" stroke-width="0.85"/>
<circle cx="118.26" cy="454.0" r="1.3" fill="#fff" stroke="#2a2a2a" stroke-width="0.85"/>
<circle cx="121.38" cy="454.0" r="1.3" fill="#fff" stroke="#2a2a2a" stroke-width="0.85"/>
<circle cx="124.5" cy="454.0" r="1.3" fill="#fff" stroke="#2a2a2a" stroke-width="0.85"/>
<circle cx="127.62" cy="454.0" r="1.3" fill="#fff" stroke="#2a2a2a" stroke-width="0.85"/>
<circle cx="130.74" cy="454.0" r="1.3" fill="#fff" stroke="#2a2a2a" stroke-width="0.85"/>
<circle cx="133.86" cy="454.0" r="1.3" fill="#fff" stroke="#2a2a2a" stroke-width="0.85"/>
<circle cx="136.98" cy="454.0" r="1.3" fill="#fff" stroke="#2a2a2a" stroke-width="0.85"/>
<circle cx="140.1" cy="454.0" r="1.3" fill="#fff" stroke="#2a2a2a" stroke-width="0.85"/>
<circle cx="143.22" cy="454.0" r="1.3" fill="#fff" stroke="#2a2a2a" stroke-width="0.85"/>
<circle cx="146.34" cy="454.0" r="1.3" fill="#fff" stroke="#2a2a2a" stroke-width="0.85"/>
<circle cx="149.46" cy="454.0" r="1.3" fill="#fff" stroke="#2a2a2a" stroke-width="0.85"/>
<circle cx="152.58" cy="454.0" r="1.3" fill="#fff" stroke="#2a2a2a" stroke-width="0.85"/>
<circle cx="155.7" cy="454.0" r="1.3" fill="#fff" stroke="#2a2a2a" stroke-width="0.85"/>
<circle cx="106.5" cy="458.7" r="1.3" fill="#fff" stroke="#2a2a2a" stroke-width="0.85"/>
<circle cx="109.69" cy="458.7" r="1.3" fill="#fff" stroke="#2a2a2a" stroke-width="0.85"/>
<circle cx="112.88" cy="458.7" r="1.3" fill="#fff" stroke="#2a2a2a" stroke-width="0.85"/>
<circle cx="116.07" cy="458.7" r="1.3" fill="#fff" stroke="#2a2a2a" stroke-width="0.85"/>
<circle cx="119.26" cy="458.7" r="1.3" fill="#fff" stroke="#2a2a2a" stroke-width="0.85"/>
<circle cx="122.45" cy="458.7" r="1.3" fill="#fff" stroke="#2a2a2a" stroke-width="0.85"/>
<circle cx="125.64" cy="458.7" r="1.3" fill="#fff" stroke="#2a2a2a" stroke-width="0.85"/>
<circle cx="128.83" cy="458.7" r="1.3" fill="#fff" stroke="#2a2a2a" stroke-width="0.85"/>
<circle cx="132.02" cy="458.7" r="1.3" fill="#fff" stroke="#2a2a2a" stroke-width="0.85"/>
<circle cx="135.21" cy="458.7" r="1.3" fill="#fff" stroke="#2a2a2a" stroke-width="0.85"/>
<circle cx="138.39" cy="458.7" r="1.3" fill="#fff" stroke="#2a2a2a" stroke-width="0.85"/>
<circle cx="141.58" cy="458.7" r="1.3" fill="#fff" stroke="#2a2a2a" stroke-width="0.85"/>
<circle cx="144.77" cy="458.7" r="1.3" fill="#fff" stroke="#2a2a2a" stroke-width="0.85"/>
<circle cx="147.96" cy="458.7" r="1.3" fill="#fff" stroke="#2a2a2a" stroke-width="0.85"/>
<circle cx="151.15" cy="458.7" r="1.3" fill="#fff" stroke="#2a2a2a" stroke-width="0.85"/>
<circle cx="154.34" cy="458.7" r="1.3" fill="#fff" stroke="#2a2a2a" stroke-width="0.85"/>
<circle cx="157.53" cy="458.7" r="1.3" fill="#fff" stroke="#2a2a2a" stroke-width="0.85"/>
<circle cx="160.72" cy="458.7" r="1.3" fill="#fff" stroke="#2a2a2a" stroke-width="0.85"/>
<circle cx="163.91" cy="458.7" r="1.3" fill="#fff" stroke="#2a2a2a" stroke-width="0.85"/>
<circle cx="167.1" cy="458.7" r="1.3" fill="#fff" stroke="#2a2a2a" stroke-width="0.85"/>
<circle cx="105.7" cy="463.5" r="1.3" fill="#fff" stroke="#2a2a2a" stroke-width="0.85"/>
<circle cx="108.81" cy="463.5" r="1.3" fill="#fff" stroke="#2a2a2a" stroke-width="0.85"/>
<circle cx="111.91" cy="463.5" r="1.3" fill="#fff" stroke="#2a2a2a" stroke-width="0.85"/>
<circle cx="115.02" cy="463.5" r="1.3" fill="#fff" stroke="#2a2a2a" stroke-width="0.85"/>
<circle cx="118.12" cy="463.5" r="1.3" fill="#fff" stroke="#2a2a2a" stroke-width="0.85"/>
<circle cx="121.23" cy="463.5" r="1.3" fill="#fff" stroke="#2a2a2a" stroke-width="0.85"/>
<circle cx="124.33" cy="463.5" r="1.3" fill="#fff" stroke="#2a2a2a" stroke-width="0.85"/>
<circle cx="127.44" cy="463.5" r="1.3" fill="#fff" stroke="#2a2a2a" stroke-width="0.85"/>
<circle cx="130.54" cy="463.5" r="1.3" fill="#fff" stroke="#2a2a2a" stroke-width="0.85"/>
<circle cx="133.65" cy="463.5" r="1.3" fill="#fff" stroke="#2a2a2a" stroke-width="0.85"/>
<circle cx="136.75" cy="463.5" r="1.3" fill="#fff" stroke="#2a2a2a" stroke-width="0.85"/>
<circle cx="139.86" cy="463.5" r="1.3" fill="#fff" stroke="#2a2a2a" stroke-width="0.85"/>
<circle cx="142.96" cy="463.5" r="1.3" fill="#fff" stroke="#2a2a2a" stroke-width="0.85"/>
<circle cx="146.06" cy="463.5" r="1.3" fill="#fff" stroke="#2a2a2a" stroke-width="0.85"/>
<circle cx="149.17" cy="463.5" r="1.3" fill="#fff" stroke="#2a2a2a" stroke-width="0.85"/>
<circle cx="152.28" cy="463.5" r="1.3" fill="#fff" stroke="#2a2a2a" stroke-width="0.85"/>
<circle cx="155.38" cy="463.5" r="1.3" fill="#fff" stroke="#2a2a2a" stroke-width="0.85"/>
<circle cx="158.49" cy="463.5" r="1.3" fill="#fff" stroke="#2a2a2a" stroke-width="0.85"/>
<circle cx="161.59" cy="463.5" r="1.3" fill="#fff" stroke="#2a2a2a" stroke-width="0.85"/>
<circle cx="164.69" cy="463.5" r="1.3" fill="#fff" stroke="#2a2a2a" stroke-width="0.85"/>
<circle cx="167.8" cy="463.5" r="1.3" fill="#fff" stroke="#2a2a2a" stroke-width="0.85"/>
<circle cx="106.5" cy="468.2" r="1.3" fill="#fff" stroke="#2a2a2a" stroke-width="0.85"/>
<circle cx="109.66" cy="468.2" r="1.3" fill="#fff" stroke="#2a2a2a" stroke-width="0.85"/>
<circle cx="112.82" cy="468.2" r="1.3" fill="#fff" stroke="#2a2a2a" stroke-width="0.85"/>
<circle cx="115.97" cy="468.2" r="1.3" fill="#fff" stroke="#2a2a2a" stroke-width="0.85"/>
<circle cx="119.13" cy="468.2" r="1.3" fill="#fff" stroke="#2a2a2a" stroke-width="0.85"/>
<circle cx="122.29" cy="468.2" r="1.3" fill="#fff" stroke="#2a2a2a" stroke-width="0.85"/>
<circle cx="125.45" cy="468.2" r="1.3" fill="#fff" stroke="#2a2a2a" stroke-width="0.85"/>
<circle cx="128.61" cy="468.2" r="1.3" fill="#fff" stroke="#2a2a2a" stroke-width="0.85"/>
<circle cx="131.76" cy="468.2" r="1.3" fill="#fff" stroke="#2a2a2a" stroke-width="0.85"/>
<circle cx="134.92" cy="468.2" r="1.3" fill="#fff" stroke="#2a2a2a" stroke-width="0.85"/>
<circle cx="138.08" cy="468.2" r="1.3" fill="#fff" stroke="#2a2a2a" stroke-width="0.85"/>
<circle cx="141.24" cy="468.2" r="1.3" fill="#fff" stroke="#2a2a2a" stroke-width="0.85"/>
<circle cx="144.39" cy="468.2" r="1.3" fill="#fff" stroke="#2a2a2a" stroke-width="0.85"/>
<circle cx="147.55" cy="468.2" r="1.3" fill="#fff" stroke="#2a2a2a" stroke-width="0.85"/>
<circle cx="150.71" cy="468.2" r="1.3" fill="#fff" stroke="#2a2a2a" stroke-width="0.85"/>
<circle cx="153.87" cy="468.2" r="1.3" fill="#fff" stroke="#2a2a2a" stroke-width="0.85"/>
<circle cx="157.03" cy="468.2" r="1.3" fill="#fff" stroke="#2a2a2a" stroke-width="0.85"/>
<circle cx="160.18" cy="468.2" r="1.3" fill="#fff" stroke="#2a2a2a" stroke-width="0.85"/>
<circle cx="163.34" cy="468.2" r="1.3" fill="#fff" stroke="#2a2a2a" stroke-width="0.85"/>
<circle cx="166.5" cy="468.2" r="1.3" fill="#fff" stroke="#2a2a2a" stroke-width="0.85"/>
<circle cx="125.7" cy="472.6" r="1.3" fill="#fff" stroke="#2a2a2a" stroke-width="0.85"/>
<circle cx="128.73" cy="472.6" r="1.3" fill="#fff" stroke="#2a2a2a" stroke-width="0.85"/>
<circle cx="131.76" cy="472.6" r="1.3" fill="#fff" stroke="#2a2a2a" stroke-width="0.85"/>
<circle cx="134.79" cy="472.6" r="1.3" fill="#fff" stroke="#2a2a2a" stroke-width="0.85"/>
<circle cx="137.81" cy="472.6" r="1.3" fill="#fff" stroke="#2a2a2a" stroke-width="0.85"/>
<circle cx="140.84" cy="472.6" r="1.3" fill="#fff" stroke="#2a2a2a" stroke-width="0.85"/>
<circle cx="143.87" cy="472.6" r="1.3" fill="#fff" stroke="#2a2a2a" stroke-width="0.85"/>
<circle cx="146.9" cy="472.6" r="1.3" fill="#fff" stroke="#2a2a2a" stroke-width="0.85"/>
<circle cx="130.4" cy="476.9" r="1.3" fill="#fff" stroke="#2a2a2a" stroke-width="0.85"/>
<circle cx="133.68" cy="476.9" r="1.3" fill="#fff" stroke="#2a2a2a" stroke-width="0.85"/>
<circle cx="136.95" cy="476.9" r="1.3" fill="#fff" stroke="#2a2a2a" stroke-width="0.85"/>
<circle cx="140.22" cy="476.9" r="1.3" fill="#fff" stroke="#2a2a2a" stroke-width="0.85"/>
<circle cx="143.5" cy="476.9" r="1.3" fill="#fff" stroke="#2a2a2a" stroke-width="0.85"/>
<circle cx="130.4" cy="481.6" r="1.3" fill="#fff" stroke="#2a2a2a" stroke-width="0.85"/>
<circle cx="133.68" cy="481.6" r="1.3" fill="#fff" stroke="#2a2a2a" stroke-width="0.85"/>
<circle cx="136.95" cy="481.6" r="1.3" fill="#fff" stroke="#2a2a2a" stroke-width="0.85"/>
<circle cx="140.22" cy="481.6" r="1.3" fill="#fff" stroke="#2a2a2a" stroke-width="0.85"/>
<circle cx="143.5" cy="481.6" r="1.3" fill="#fff" stroke="#2a2a2a" stroke-width="0.85"/>
<circle cx="135.6" cy="488.4" r="1.3" fill="#fff" stroke="#2a2a2a" stroke-width="0.85"/>
<rect x="198.25" y="422.05" width="2.7" height="2.7" fill="#fff" stroke="#2a2a2a" stroke-width="0.95"/>
<rect x="201.05" y="422.05" width="2.7" height="2.7" fill="#fff" stroke="#2a2a2a" stroke-width="0.95"/>
<rect x="203.85" y="422.05" width="2.7" height="2.7" fill="#fff" stroke="#2a2a2a" stroke-width="0.95"/>
<rect x="206.65" y="422.05" width="2.7" height="2.7" fill="#fff" stroke="#2a2a2a" stroke-width="0.95"/>
<rect x="209.45" y="422.05" width="2.7" height="2.7" fill="#fff" stroke="#2a2a2a" stroke-width="0.95"/>
<rect x="212.25" y="422.05" width="2.7" height="2.7" fill="#fff" stroke="#2a2a2a" stroke-width="0.95"/>
<rect x="215.05" y="422.05" width="2.7" height="2.7" fill="#fff" stroke="#2a2a2a" stroke-width="0.95"/>
<rect x="217.85" y="422.05" width="2.7" height="2.7" fill="#fff" stroke="#2a2a2a" stroke-width="0.95"/>
<rect x="196.85" y="426.25" width="2.7" height="2.7" fill="#fff" stroke="#2a2a2a" stroke-width="0.95"/>
<rect x="199.67" y="426.25" width="2.7" height="2.7" fill="#fff" stroke="#2a2a2a" stroke-width="0.95"/>
<rect x="202.50" y="426.25" width="2.7" height="2.7" fill="#fff" stroke="#2a2a2a" stroke-width="0.95"/>
<rect x="205.33" y="426.25" width="2.7" height="2.7" fill="#fff" stroke="#2a2a2a" stroke-width="0.95"/>
<rect x="208.15" y="426.25" width="2.7" height="2.7" fill="#fff" stroke="#2a2a2a" stroke-width="0.95"/>
<rect x="210.97" y="426.25" width="2.7" height="2.7" fill="#fff" stroke="#2a2a2a" stroke-width="0.95"/>
<rect x="213.80" y="426.25" width="2.7" height="2.7" fill="#fff" stroke="#2a2a2a" stroke-width="0.95"/>
<rect x="216.63" y="426.25" width="2.7" height="2.7" fill="#fff" stroke="#2a2a2a" stroke-width="0.95"/>
<rect x="219.45" y="426.25" width="2.7" height="2.7" fill="#fff" stroke="#2a2a2a" stroke-width="0.95"/>
<rect x="197.25" y="430.15" width="2.7" height="2.7" fill="#fff" stroke="#2a2a2a" stroke-width="0.95"/>
<rect x="200.03" y="430.15" width="2.7" height="2.7" fill="#fff" stroke="#2a2a2a" stroke-width="0.95"/>
<rect x="202.80" y="430.15" width="2.7" height="2.7" fill="#fff" stroke="#2a2a2a" stroke-width="0.95"/>
<rect x="205.58" y="430.15" width="2.7" height="2.7" fill="#fff" stroke="#2a2a2a" stroke-width="0.95"/>
<rect x="208.35" y="430.15" width="2.7" height="2.7" fill="#fff" stroke="#2a2a2a" stroke-width="0.95"/>
<rect x="211.12" y="430.15" width="2.7" height="2.7" fill="#fff" stroke="#2a2a2a" stroke-width="0.95"/>
<rect x="213.90" y="430.15" width="2.7" height="2.7" fill="#fff" stroke="#2a2a2a" stroke-width="0.95"/>
<rect x="216.68" y="430.15" width="2.7" height="2.7" fill="#fff" stroke="#2a2a2a" stroke-width="0.95"/>
<rect x="219.45" y="430.15" width="2.7" height="2.7" fill="#fff" stroke="#2a2a2a" stroke-width="0.95"/>
<rect x="173.65" y="434.55" width="2.7" height="2.7" fill="#fff" stroke="#2a2a2a" stroke-width="0.95"/>
<rect x="176.60" y="434.55" width="2.7" height="2.7" fill="#fff" stroke="#2a2a2a" stroke-width="0.95"/>
<rect x="179.55" y="434.55" width="2.7" height="2.7" fill="#fff" stroke="#2a2a2a" stroke-width="0.95"/>
<rect x="182.49" y="434.55" width="2.7" height="2.7" fill="#fff" stroke="#2a2a2a" stroke-width="0.95"/>
<rect x="185.44" y="434.55" width="2.7" height="2.7" fill="#fff" stroke="#2a2a2a" stroke-width="0.95"/>
<rect x="188.39" y="434.55" width="2.7" height="2.7" fill="#fff" stroke="#2a2a2a" stroke-width="0.95"/>
<rect x="191.34" y="434.55" width="2.7" height="2.7" fill="#fff" stroke="#2a2a2a" stroke-width="0.95"/>
<rect x="194.28" y="434.55" width="2.7" height="2.7" fill="#fff" stroke="#2a2a2a" stroke-width="0.95"/>
<rect x="197.23" y="434.55" width="2.7" height="2.7" fill="#fff" stroke="#2a2a2a" stroke-width="0.95"/>
<rect x="200.18" y="434.55" width="2.7" height="2.7" fill="#fff" stroke="#2a2a2a" stroke-width="0.95"/>
<rect x="203.13" y="434.55" width="2.7" height="2.7" fill="#fff" stroke="#2a2a2a" stroke-width="0.95"/>
<rect x="206.08" y="434.55" width="2.7" height="2.7" fill="#fff" stroke="#2a2a2a" stroke-width="0.95"/>
<rect x="209.02" y="434.55" width="2.7" height="2.7" fill="#fff" stroke="#2a2a2a" stroke-width="0.95"/>
<rect x="211.97" y="434.55" width="2.7" height="2.7" fill="#fff" stroke="#2a2a2a" stroke-width="0.95"/>
<rect x="214.92" y="434.55" width="2.7" height="2.7" fill="#fff" stroke="#2a2a2a" stroke-width="0.95"/>
<rect x="217.87" y="434.55" width="2.7" height="2.7" fill="#fff" stroke="#2a2a2a" stroke-width="0.95"/>
<rect x="220.82" y="434.55" width="2.7" height="2.7" fill="#fff" stroke="#2a2a2a" stroke-width="0.95"/>
<rect x="223.76" y="434.55" width="2.7" height="2.7" fill="#fff" stroke="#2a2a2a" stroke-width="0.95"/>
<rect x="226.71" y="434.55" width="2.7" height="2.7" fill="#fff" stroke="#2a2a2a" stroke-width="0.95"/>
<rect x="229.66" y="434.55" width="2.7" height="2.7" fill="#fff" stroke="#2a2a2a" stroke-width="0.95"/>
<rect x="232.61" y="434.55" width="2.7" height="2.7" fill="#fff" stroke="#2a2a2a" stroke-width="0.95"/>
<rect x="235.55" y="434.55" width="2.7" height="2.7" fill="#fff" stroke="#2a2a2a" stroke-width="0.95"/>
<rect x="238.50" y="434.55" width="2.7" height="2.7" fill="#fff" stroke="#2a2a2a" stroke-width="0.95"/>
<rect x="241.45" y="434.55" width="2.7" height="2.7" fill="#fff" stroke="#2a2a2a" stroke-width="0.95"/>
<rect x="171.05" y="438.75" width="2.7" height="2.7" fill="#fff" stroke="#2a2a2a" stroke-width="0.95"/>
<rect x="173.98" y="438.75" width="2.7" height="2.7" fill="#fff" stroke="#2a2a2a" stroke-width="0.95"/>
<rect x="176.91" y="438.75" width="2.7" height="2.7" fill="#fff" stroke="#2a2a2a" stroke-width="0.95"/>
<rect x="179.83" y="438.75" width="2.7" height="2.7" fill="#fff" stroke="#2a2a2a" stroke-width="0.95"/>
<rect x="182.76" y="438.75" width="2.7" height="2.7" fill="#fff" stroke="#2a2a2a" stroke-width="0.95"/>
<rect x="185.69" y="438.75" width="2.7" height="2.7" fill="#fff" stroke="#2a2a2a" stroke-width="0.95"/>
<rect x="188.62" y="438.75" width="2.7" height="2.7" fill="#fff" stroke="#2a2a2a" stroke-width="0.95"/>
<rect x="191.55" y="438.75" width="2.7" height="2.7" fill="#fff" stroke="#2a2a2a" stroke-width="0.95"/>
<rect x="194.47" y="438.75" width="2.7" height="2.7" fill="#fff" stroke="#2a2a2a" stroke-width="0.95"/>
<rect x="197.40" y="438.75" width="2.7" height="2.7" fill="#fff" stroke="#2a2a2a" stroke-width="0.95"/>
<rect x="200.33" y="438.75" width="2.7" height="2.7" fill="#fff" stroke="#2a2a2a" stroke-width="0.95"/>
<rect x="203.26" y="438.75" width="2.7" height="2.7" fill="#fff" stroke="#2a2a2a" stroke-width="0.95"/>
<rect x="206.19" y="438.75" width="2.7" height="2.7" fill="#fff" stroke="#2a2a2a" stroke-width="0.95"/>
<rect x="209.11" y="438.75" width="2.7" height="2.7" fill="#fff" stroke="#2a2a2a" stroke-width="0.95"/>
<rect x="212.04" y="438.75" width="2.7" height="2.7" fill="#fff" stroke="#2a2a2a" stroke-width="0.95"/>
<rect x="214.97" y="438.75" width="2.7" height="2.7" fill="#fff" stroke="#2a2a2a" stroke-width="0.95"/>
<rect x="217.90" y="438.75" width="2.7" height="2.7" fill="#fff" stroke="#2a2a2a" stroke-width="0.95"/>
<rect x="220.83" y="438.75" width="2.7" height="2.7" fill="#fff" stroke="#2a2a2a" stroke-width="0.95"/>
<rect x="223.75" y="438.75" width="2.7" height="2.7" fill="#fff" stroke="#2a2a2a" stroke-width="0.95"/>
<rect x="226.68" y="438.75" width="2.7" height="2.7" fill="#fff" stroke="#2a2a2a" stroke-width="0.95"/>
<rect x="229.61" y="438.75" width="2.7" height="2.7" fill="#fff" stroke="#2a2a2a" stroke-width="0.95"/>
<rect x="232.54" y="438.75" width="2.7" height="2.7" fill="#fff" stroke="#2a2a2a" stroke-width="0.95"/>
<rect x="235.47" y="438.75" width="2.7" height="2.7" fill="#fff" stroke="#2a2a2a" stroke-width="0.95"/>
<rect x="238.39" y="438.75" width="2.7" height="2.7" fill="#fff" stroke="#2a2a2a" stroke-width="0.95"/>
<rect x="241.32" y="438.75" width="2.7" height="2.7" fill="#fff" stroke="#2a2a2a" stroke-width="0.95"/>
<rect x="244.25" y="438.75" width="2.7" height="2.7" fill="#fff" stroke="#2a2a2a" stroke-width="0.95"/>
<rect x="171.05" y="442.65" width="2.7" height="2.7" fill="#fff" stroke="#2a2a2a" stroke-width="0.95"/>
<rect x="173.99" y="442.65" width="2.7" height="2.7" fill="#fff" stroke="#2a2a2a" stroke-width="0.95"/>
<rect x="176.93" y="442.65" width="2.7" height="2.7" fill="#fff" stroke="#2a2a2a" stroke-width="0.95"/>
<rect x="179.87" y="442.65" width="2.7" height="2.7" fill="#fff" stroke="#2a2a2a" stroke-width="0.95"/>
<rect x="182.82" y="442.65" width="2.7" height="2.7" fill="#fff" stroke="#2a2a2a" stroke-width="0.95"/>
<rect x="185.76" y="442.65" width="2.7" height="2.7" fill="#fff" stroke="#2a2a2a" stroke-width="0.95"/>
<rect x="188.70" y="442.65" width="2.7" height="2.7" fill="#fff" stroke="#2a2a2a" stroke-width="0.95"/>
<rect x="191.64" y="442.65" width="2.7" height="2.7" fill="#fff" stroke="#2a2a2a" stroke-width="0.95"/>
<rect x="194.58" y="442.65" width="2.7" height="2.7" fill="#fff" stroke="#2a2a2a" stroke-width="0.95"/>
<rect x="197.53" y="442.65" width="2.7" height="2.7" fill="#fff" stroke="#2a2a2a" stroke-width="0.95"/>
<rect x="200.47" y="442.65" width="2.7" height="2.7" fill="#fff" stroke="#2a2a2a" stroke-width="0.95"/>
<rect x="203.41" y="442.65" width="2.7" height="2.7" fill="#fff" stroke="#2a2a2a" stroke-width="0.95"/>
<rect x="206.35" y="442.65" width="2.7" height="2.7" fill="#fff" stroke="#2a2a2a" stroke-width="0.95"/>
<rect x="209.29" y="442.65" width="2.7" height="2.7" fill="#fff" stroke="#2a2a2a" stroke-width="0.95"/>
<rect x="212.23" y="442.65" width="2.7" height="2.7" fill="#fff" stroke="#2a2a2a" stroke-width="0.95"/>
<rect x="215.18" y="442.65" width="2.7" height="2.7" fill="#fff" stroke="#2a2a2a" stroke-width="0.95"/>
<rect x="218.12" y="442.65" width="2.7" height="2.7" fill="#fff" stroke="#2a2a2a" stroke-width="0.95"/>
<rect x="221.06" y="442.65" width="2.7" height="2.7" fill="#fff" stroke="#2a2a2a" stroke-width="0.95"/>
<rect x="224.00" y="442.65" width="2.7" height="2.7" fill="#fff" stroke="#2a2a2a" stroke-width="0.95"/>
<rect x="226.94" y="442.65" width="2.7" height="2.7" fill="#fff" stroke="#2a2a2a" stroke-width="0.95"/>
<rect x="229.88" y="442.65" width="2.7" height="2.7" fill="#fff" stroke="#2a2a2a" stroke-width="0.95"/>
<rect x="232.83" y="442.65" width="2.7" height="2.7" fill="#fff" stroke="#2a2a2a" stroke-width="0.95"/>
<rect x="235.77" y="442.65" width="2.7" height="2.7" fill="#fff" stroke="#2a2a2a" stroke-width="0.95"/>
<rect x="238.71" y="442.65" width="2.7" height="2.7" fill="#fff" stroke="#2a2a2a" stroke-width="0.95"/>
<rect x="241.65" y="442.65" width="2.7" height="2.7" fill="#fff" stroke="#2a2a2a" stroke-width="0.95"/>
<rect x="174.05" y="448.35" width="2.7" height="2.7" fill="#fff" stroke="#2a2a2a" stroke-width="0.95"/>
<rect x="176.99" y="448.35" width="2.7" height="2.7" fill="#fff" stroke="#2a2a2a" stroke-width="0.95"/>
<rect x="179.93" y="448.35" width="2.7" height="2.7" fill="#fff" stroke="#2a2a2a" stroke-width="0.95"/>
<rect x="182.87" y="448.35" width="2.7" height="2.7" fill="#fff" stroke="#2a2a2a" stroke-width="0.95"/>
<rect x="185.81" y="448.35" width="2.7" height="2.7" fill="#fff" stroke="#2a2a2a" stroke-width="0.95"/>
<rect x="188.75" y="448.35" width="2.7" height="2.7" fill="#fff" stroke="#2a2a2a" stroke-width="0.95"/>
<rect x="191.68" y="448.35" width="2.7" height="2.7" fill="#fff" stroke="#2a2a2a" stroke-width="0.95"/>
<rect x="194.62" y="448.35" width="2.7" height="2.7" fill="#fff" stroke="#2a2a2a" stroke-width="0.95"/>
<rect x="197.56" y="448.35" width="2.7" height="2.7" fill="#fff" stroke="#2a2a2a" stroke-width="0.95"/>
<rect x="200.50" y="448.35" width="2.7" height="2.7" fill="#fff" stroke="#2a2a2a" stroke-width="0.95"/>
<rect x="203.44" y="448.35" width="2.7" height="2.7" fill="#fff" stroke="#2a2a2a" stroke-width="0.95"/>
<rect x="206.38" y="448.35" width="2.7" height="2.7" fill="#fff" stroke="#2a2a2a" stroke-width="0.95"/>
<rect x="209.32" y="448.35" width="2.7" height="2.7" fill="#fff" stroke="#2a2a2a" stroke-width="0.95"/>
<rect x="212.26" y="448.35" width="2.7" height="2.7" fill="#fff" stroke="#2a2a2a" stroke-width="0.95"/>
<rect x="215.20" y="448.35" width="2.7" height="2.7" fill="#fff" stroke="#2a2a2a" stroke-width="0.95"/>
<rect x="218.14" y="448.35" width="2.7" height="2.7" fill="#fff" stroke="#2a2a2a" stroke-width="0.95"/>
<rect x="221.08" y="448.35" width="2.7" height="2.7" fill="#fff" stroke="#2a2a2a" stroke-width="0.95"/>
<rect x="224.02" y="448.35" width="2.7" height="2.7" fill="#fff" stroke="#2a2a2a" stroke-width="0.95"/>
<rect x="226.95" y="448.35" width="2.7" height="2.7" fill="#fff" stroke="#2a2a2a" stroke-width="0.95"/>
<rect x="229.89" y="448.35" width="2.7" height="2.7" fill="#fff" stroke="#2a2a2a" stroke-width="0.95"/>
<rect x="232.83" y="448.35" width="2.7" height="2.7" fill="#fff" stroke="#2a2a2a" stroke-width="0.95"/>
<rect x="235.77" y="448.35" width="2.7" height="2.7" fill="#fff" stroke="#2a2a2a" stroke-width="0.95"/>
<rect x="238.71" y="448.35" width="2.7" height="2.7" fill="#fff" stroke="#2a2a2a" stroke-width="0.95"/>
<rect x="241.65" y="448.35" width="2.7" height="2.7" fill="#fff" stroke="#2a2a2a" stroke-width="0.95"/>
<rect x="171.05" y="452.75" width="2.7" height="2.7" fill="#fff" stroke="#2a2a2a" stroke-width="0.95"/>
<rect x="173.98" y="452.75" width="2.7" height="2.7" fill="#fff" stroke="#2a2a2a" stroke-width="0.95"/>
<rect x="176.91" y="452.75" width="2.7" height="2.7" fill="#fff" stroke="#2a2a2a" stroke-width="0.95"/>
<rect x="179.83" y="452.75" width="2.7" height="2.7" fill="#fff" stroke="#2a2a2a" stroke-width="0.95"/>
<rect x="182.76" y="452.75" width="2.7" height="2.7" fill="#fff" stroke="#2a2a2a" stroke-width="0.95"/>
<rect x="185.69" y="452.75" width="2.7" height="2.7" fill="#fff" stroke="#2a2a2a" stroke-width="0.95"/>
<rect x="188.62" y="452.75" width="2.7" height="2.7" fill="#fff" stroke="#2a2a2a" stroke-width="0.95"/>
<rect x="191.55" y="452.75" width="2.7" height="2.7" fill="#fff" stroke="#2a2a2a" stroke-width="0.95"/>
<rect x="194.47" y="452.75" width="2.7" height="2.7" fill="#fff" stroke="#2a2a2a" stroke-width="0.95"/>
<rect x="197.40" y="452.75" width="2.7" height="2.7" fill="#fff" stroke="#2a2a2a" stroke-width="0.95"/>
<rect x="200.33" y="452.75" width="2.7" height="2.7" fill="#fff" stroke="#2a2a2a" stroke-width="0.95"/>
<rect x="203.26" y="452.75" width="2.7" height="2.7" fill="#fff" stroke="#2a2a2a" stroke-width="0.95"/>
<rect x="206.19" y="452.75" width="2.7" height="2.7" fill="#fff" stroke="#2a2a2a" stroke-width="0.95"/>
<rect x="209.11" y="452.75" width="2.7" height="2.7" fill="#fff" stroke="#2a2a2a" stroke-width="0.95"/>
<rect x="212.04" y="452.75" width="2.7" height="2.7" fill="#fff" stroke="#2a2a2a" stroke-width="0.95"/>
<rect x="214.97" y="452.75" width="2.7" height="2.7" fill="#fff" stroke="#2a2a2a" stroke-width="0.95"/>
<rect x="217.90" y="452.75" width="2.7" height="2.7" fill="#fff" stroke="#2a2a2a" stroke-width="0.95"/>
<rect x="220.83" y="452.75" width="2.7" height="2.7" fill="#fff" stroke="#2a2a2a" stroke-width="0.95"/>
<rect x="223.75" y="452.75" width="2.7" height="2.7" fill="#fff" stroke="#2a2a2a" stroke-width="0.95"/>
<rect x="226.68" y="452.75" width="2.7" height="2.7" fill="#fff" stroke="#2a2a2a" stroke-width="0.95"/>
<rect x="229.61" y="452.75" width="2.7" height="2.7" fill="#fff" stroke="#2a2a2a" stroke-width="0.95"/>
<rect x="232.54" y="452.75" width="2.7" height="2.7" fill="#fff" stroke="#2a2a2a" stroke-width="0.95"/>
<rect x="235.47" y="452.75" width="2.7" height="2.7" fill="#fff" stroke="#2a2a2a" stroke-width="0.95"/>
<rect x="238.39" y="452.75" width="2.7" height="2.7" fill="#fff" stroke="#2a2a2a" stroke-width="0.95"/>
<rect x="241.32" y="452.75" width="2.7" height="2.7" fill="#fff" stroke="#2a2a2a" stroke-width="0.95"/>
<rect x="244.25" y="452.75" width="2.7" height="2.7" fill="#fff" stroke="#2a2a2a" stroke-width="0.95"/>
<rect x="172.05" y="457.45" width="2.7" height="2.7" fill="#fff" stroke="#2a2a2a" stroke-width="0.95"/>
<rect x="174.98" y="457.45" width="2.7" height="2.7" fill="#fff" stroke="#2a2a2a" stroke-width="0.95"/>
<rect x="177.91" y="457.45" width="2.7" height="2.7" fill="#fff" stroke="#2a2a2a" stroke-width="0.95"/>
<rect x="180.83" y="457.45" width="2.7" height="2.7" fill="#fff" stroke="#2a2a2a" stroke-width="0.95"/>
<rect x="183.76" y="457.45" width="2.7" height="2.7" fill="#fff" stroke="#2a2a2a" stroke-width="0.95"/>
<rect x="186.69" y="457.45" width="2.7" height="2.7" fill="#fff" stroke="#2a2a2a" stroke-width="0.95"/>
<rect x="189.62" y="457.45" width="2.7" height="2.7" fill="#fff" stroke="#2a2a2a" stroke-width="0.95"/>
<rect x="192.55" y="457.45" width="2.7" height="2.7" fill="#fff" stroke="#2a2a2a" stroke-width="0.95"/>
<rect x="195.47" y="457.45" width="2.7" height="2.7" fill="#fff" stroke="#2a2a2a" stroke-width="0.95"/>
<rect x="198.40" y="457.45" width="2.7" height="2.7" fill="#fff" stroke="#2a2a2a" stroke-width="0.95"/>
<rect x="201.33" y="457.45" width="2.7" height="2.7" fill="#fff" stroke="#2a2a2a" stroke-width="0.95"/>
<rect x="204.26" y="457.45" width="2.7" height="2.7" fill="#fff" stroke="#2a2a2a" stroke-width="0.95"/>
<rect x="207.19" y="457.45" width="2.7" height="2.7" fill="#fff" stroke="#2a2a2a" stroke-width="0.95"/>
<rect x="210.11" y="457.45" width="2.7" height="2.7" fill="#fff" stroke="#2a2a2a" stroke-width="0.95"/>
<rect x="213.04" y="457.45" width="2.7" height="2.7" fill="#fff" stroke="#2a2a2a" stroke-width="0.95"/>
<rect x="215.97" y="457.45" width="2.7" height="2.7" fill="#fff" stroke="#2a2a2a" stroke-width="0.95"/>
<rect x="218.90" y="457.45" width="2.7" height="2.7" fill="#fff" stroke="#2a2a2a" stroke-width="0.95"/>
<rect x="221.83" y="457.45" width="2.7" height="2.7" fill="#fff" stroke="#2a2a2a" stroke-width="0.95"/>
<rect x="224.75" y="457.45" width="2.7" height="2.7" fill="#fff" stroke="#2a2a2a" stroke-width="0.95"/>
<rect x="227.68" y="457.45" width="2.7" height="2.7" fill="#fff" stroke="#2a2a2a" stroke-width="0.95"/>
<rect x="230.61" y="457.45" width="2.7" height="2.7" fill="#fff" stroke="#2a2a2a" stroke-width="0.95"/>
<rect x="233.54" y="457.45" width="2.7" height="2.7" fill="#fff" stroke="#2a2a2a" stroke-width="0.95"/>
<rect x="236.47" y="457.45" width="2.7" height="2.7" fill="#fff" stroke="#2a2a2a" stroke-width="0.95"/>
<rect x="239.39" y="457.45" width="2.7" height="2.7" fill="#fff" stroke="#2a2a2a" stroke-width="0.95"/>
<rect x="242.32" y="457.45" width="2.7" height="2.7" fill="#fff" stroke="#2a2a2a" stroke-width="0.95"/>
<rect x="245.25" y="457.45" width="2.7" height="2.7" fill="#fff" stroke="#2a2a2a" stroke-width="0.95"/>
<rect x="171.05" y="462.55" width="2.7" height="2.7" fill="#fff" stroke="#2a2a2a" stroke-width="0.95"/>
<rect x="173.99" y="462.55" width="2.7" height="2.7" fill="#fff" stroke="#2a2a2a" stroke-width="0.95"/>
<rect x="176.94" y="462.55" width="2.7" height="2.7" fill="#fff" stroke="#2a2a2a" stroke-width="0.95"/>
<rect x="179.88" y="462.55" width="2.7" height="2.7" fill="#fff" stroke="#2a2a2a" stroke-width="0.95"/>
<rect x="182.83" y="462.55" width="2.7" height="2.7" fill="#fff" stroke="#2a2a2a" stroke-width="0.95"/>
<rect x="185.77" y="462.55" width="2.7" height="2.7" fill="#fff" stroke="#2a2a2a" stroke-width="0.95"/>
<rect x="188.71" y="462.55" width="2.7" height="2.7" fill="#fff" stroke="#2a2a2a" stroke-width="0.95"/>
<rect x="191.66" y="462.55" width="2.7" height="2.7" fill="#fff" stroke="#2a2a2a" stroke-width="0.95"/>
<rect x="194.60" y="462.55" width="2.7" height="2.7" fill="#fff" stroke="#2a2a2a" stroke-width="0.95"/>
<rect x="197.55" y="462.55" width="2.7" height="2.7" fill="#fff" stroke="#2a2a2a" stroke-width="0.95"/>
<rect x="200.49" y="462.55" width="2.7" height="2.7" fill="#fff" stroke="#2a2a2a" stroke-width="0.95"/>
<rect x="203.43" y="462.55" width="2.7" height="2.7" fill="#fff" stroke="#2a2a2a" stroke-width="0.95"/>
<rect x="206.38" y="462.55" width="2.7" height="2.7" fill="#fff" stroke="#2a2a2a" stroke-width="0.95"/>
<rect x="209.32" y="462.55" width="2.7" height="2.7" fill="#fff" stroke="#2a2a2a" stroke-width="0.95"/>
<rect x="212.27" y="462.55" width="2.7" height="2.7" fill="#fff" stroke="#2a2a2a" stroke-width="0.95"/>
<rect x="215.21" y="462.55" width="2.7" height="2.7" fill="#fff" stroke="#2a2a2a" stroke-width="0.95"/>
<rect x="218.15" y="462.55" width="2.7" height="2.7" fill="#fff" stroke="#2a2a2a" stroke-width="0.95"/>
<rect x="221.10" y="462.55" width="2.7" height="2.7" fill="#fff" stroke="#2a2a2a" stroke-width="0.95"/>
<rect x="224.04" y="462.55" width="2.7" height="2.7" fill="#fff" stroke="#2a2a2a" stroke-width="0.95"/>
<rect x="226.99" y="462.55" width="2.7" height="2.7" fill="#fff" stroke="#2a2a2a" stroke-width="0.95"/>
<rect x="229.93" y="462.55" width="2.7" height="2.7" fill="#fff" stroke="#2a2a2a" stroke-width="0.95"/>
<rect x="232.87" y="462.55" width="2.7" height="2.7" fill="#fff" stroke="#2a2a2a" stroke-width="0.95"/>
<rect x="235.82" y="462.55" width="2.7" height="2.7" fill="#fff" stroke="#2a2a2a" stroke-width="0.95"/>
<rect x="238.76" y="462.55" width="2.7" height="2.7" fill="#fff" stroke="#2a2a2a" stroke-width="0.95"/>
<rect x="241.71" y="462.55" width="2.7" height="2.7" fill="#fff" stroke="#2a2a2a" stroke-width="0.95"/>
<rect x="244.65" y="462.55" width="2.7" height="2.7" fill="#fff" stroke="#2a2a2a" stroke-width="0.95"/>
<rect x="170.55" y="467.05" width="2.7" height="2.7" fill="#fff" stroke="#2a2a2a" stroke-width="0.95"/>
<rect x="173.53" y="467.05" width="2.7" height="2.7" fill="#fff" stroke="#2a2a2a" stroke-width="0.95"/>
<rect x="176.51" y="467.05" width="2.7" height="2.7" fill="#fff" stroke="#2a2a2a" stroke-width="0.95"/>
<rect x="179.49" y="467.05" width="2.7" height="2.7" fill="#fff" stroke="#2a2a2a" stroke-width="0.95"/>
<rect x="182.47" y="467.05" width="2.7" height="2.7" fill="#fff" stroke="#2a2a2a" stroke-width="0.95"/>
<rect x="185.45" y="467.05" width="2.7" height="2.7" fill="#fff" stroke="#2a2a2a" stroke-width="0.95"/>
<rect x="188.43" y="467.05" width="2.7" height="2.7" fill="#fff" stroke="#2a2a2a" stroke-width="0.95"/>
<rect x="191.40" y="467.05" width="2.7" height="2.7" fill="#fff" stroke="#2a2a2a" stroke-width="0.95"/>
<rect x="194.38" y="467.05" width="2.7" height="2.7" fill="#fff" stroke="#2a2a2a" stroke-width="0.95"/>
<rect x="197.36" y="467.05" width="2.7" height="2.7" fill="#fff" stroke="#2a2a2a" stroke-width="0.95"/>
<rect x="200.34" y="467.05" width="2.7" height="2.7" fill="#fff" stroke="#2a2a2a" stroke-width="0.95"/>
<rect x="203.32" y="467.05" width="2.7" height="2.7" fill="#fff" stroke="#2a2a2a" stroke-width="0.95"/>
<rect x="206.30" y="467.05" width="2.7" height="2.7" fill="#fff" stroke="#2a2a2a" stroke-width="0.95"/>
<rect x="209.28" y="467.05" width="2.7" height="2.7" fill="#fff" stroke="#2a2a2a" stroke-width="0.95"/>
<rect x="212.26" y="467.05" width="2.7" height="2.7" fill="#fff" stroke="#2a2a2a" stroke-width="0.95"/>
<rect x="215.24" y="467.05" width="2.7" height="2.7" fill="#fff" stroke="#2a2a2a" stroke-width="0.95"/>
<rect x="218.22" y="467.05" width="2.7" height="2.7" fill="#fff" stroke="#2a2a2a" stroke-width="0.95"/>
<rect x="221.20" y="467.05" width="2.7" height="2.7" fill="#fff" stroke="#2a2a2a" stroke-width="0.95"/>
<rect x="224.18" y="467.05" width="2.7" height="2.7" fill="#fff" stroke="#2a2a2a" stroke-width="0.95"/>
<rect x="227.15" y="467.05" width="2.7" height="2.7" fill="#fff" stroke="#2a2a2a" stroke-width="0.95"/>
<rect x="230.13" y="467.05" width="2.7" height="2.7" fill="#fff" stroke="#2a2a2a" stroke-width="0.95"/>
<rect x="233.11" y="467.05" width="2.7" height="2.7" fill="#fff" stroke="#2a2a2a" stroke-width="0.95"/>
<rect x="236.09" y="467.05" width="2.7" height="2.7" fill="#fff" stroke="#2a2a2a" stroke-width="0.95"/>
<rect x="239.07" y="467.05" width="2.7" height="2.7" fill="#fff" stroke="#2a2a2a" stroke-width="0.95"/>
<rect x="242.05" y="467.05" width="2.7" height="2.7" fill="#fff" stroke="#2a2a2a" stroke-width="0.95"/>
<rect x="201.45" y="471.25" width="2.7" height="2.7" fill="#fff" stroke="#2a2a2a" stroke-width="0.95"/>
<rect x="204.63" y="471.25" width="2.7" height="2.7" fill="#fff" stroke="#2a2a2a" stroke-width="0.95"/>
<rect x="207.80" y="471.25" width="2.7" height="2.7" fill="#fff" stroke="#2a2a2a" stroke-width="0.95"/>
<rect x="210.97" y="471.25" width="2.7" height="2.7" fill="#fff" stroke="#2a2a2a" stroke-width="0.95"/>
<rect x="214.15" y="471.25" width="2.7" height="2.7" fill="#fff" stroke="#2a2a2a" stroke-width="0.95"/>
<rect x="196.65" y="475.45" width="2.7" height="2.7" fill="#fff" stroke="#2a2a2a" stroke-width="0.95"/>
<rect x="199.45" y="475.45" width="2.7" height="2.7" fill="#fff" stroke="#2a2a2a" stroke-width="0.95"/>
<rect x="202.25" y="475.45" width="2.7" height="2.7" fill="#fff" stroke="#2a2a2a" stroke-width="0.95"/>
<rect x="205.05" y="475.45" width="2.7" height="2.7" fill="#fff" stroke="#2a2a2a" stroke-width="0.95"/>
<rect x="207.85" y="475.45" width="2.7" height="2.7" fill="#fff" stroke="#2a2a2a" stroke-width="0.95"/>
<rect x="210.65" y="475.45" width="2.7" height="2.7" fill="#fff" stroke="#2a2a2a" stroke-width="0.95"/>
<rect x="213.45" y="475.45" width="2.7" height="2.7" fill="#fff" stroke="#2a2a2a" stroke-width="0.95"/>
<rect x="216.25" y="475.45" width="2.7" height="2.7" fill="#fff" stroke="#2a2a2a" stroke-width="0.95"/>
<rect x="219.05" y="475.45" width="2.7" height="2.7" fill="#fff" stroke="#2a2a2a" stroke-width="0.95"/>
<rect x="203.85" y="479.85" width="2.7" height="2.7" fill="#fff" stroke="#2a2a2a" stroke-width="0.95"/>
<rect x="207.35" y="479.85" width="2.7" height="2.7" fill="#fff" stroke="#2a2a2a" stroke-width="0.95"/>
<rect x="210.85" y="479.85" width="2.7" height="2.7" fill="#fff" stroke="#2a2a2a" stroke-width="0.95"/>
<rect x="199.85" y="484.45" width="2.7" height="2.7" fill="#fff" stroke="#2a2a2a" stroke-width="0.95"/>
<rect x="203.03" y="484.45" width="2.7" height="2.7" fill="#fff" stroke="#2a2a2a" stroke-width="0.95"/>
<rect x="206.21" y="484.45" width="2.7" height="2.7" fill="#fff" stroke="#2a2a2a" stroke-width="0.95"/>
<rect x="209.39" y="484.45" width="2.7" height="2.7" fill="#fff" stroke="#2a2a2a" stroke-width="0.95"/>
<rect x="212.57" y="484.45" width="2.7" height="2.7" fill="#fff" stroke="#2a2a2a" stroke-width="0.95"/>
<rect x="215.75" y="484.45" width="2.7" height="2.7" fill="#fff" stroke="#2a2a2a" stroke-width="0.95"/>
<rect x="206.15" y="490.05" width="2.7" height="2.7" fill="#fff" stroke="#2a2a2a" stroke-width="0.95"/>
<rect x="210.25" y="490.05" width="2.7" height="2.7" fill="#fff" stroke="#2a2a2a" stroke-width="0.95"/>
<rect x="206.15" y="497.85" width="2.7" height="2.7" fill="#fff" stroke="#2a2a2a" stroke-width="0.95"/>
<rect x="210.25" y="497.85" width="2.7" height="2.7" fill="#fff" stroke="#2a2a2a" stroke-width="0.95"/>
<circle cx="130" cy="379.1" r="2.9" fill="#fff" stroke="#2a2a2a" stroke-width="1"/>
<circle cx="137.3" cy="381.4" r="2.9" fill="#fff" stroke="#2a2a2a" stroke-width="1"/>
<circle cx="129.8" cy="393.8" r="2.9" fill="#fff" stroke="#2a2a2a" stroke-width="1"/>
<circle cx="136.9" cy="398.3" r="2.9" fill="#fff" stroke="#2a2a2a" stroke-width="1"/>
<circle cx="130.6" cy="400.8" r="2.9" fill="#fff" stroke="#2a2a2a" stroke-width="1"/>
<circle cx="133.5" cy="407.5" r="2.9" fill="#fff" stroke="#2a2a2a" stroke-width="1"/>
<circle cx="316.7" cy="401.2" r="2.9" fill="#fff" stroke="#2a2a2a" stroke-width="1"/>
<circle cx="439.8" cy="412.2" r="2.9" fill="#fff" stroke="#2a2a2a" stroke-width="1"/>
<circle cx="460" cy="403.1" r="2.9" fill="#fff" stroke="#2a2a2a" stroke-width="1"/>
<circle cx="501.3" cy="380.1" r="2.9" fill="#fff" stroke="#2a2a2a" stroke-width="1"/>
<circle cx="504.4" cy="378.1" r="2.9" fill="#fff" stroke="#2a2a2a" stroke-width="1"/>
<rect x="206.40" y="362.40" width="5.6" height="5.6" fill="#fff" stroke="#2a2a2a" stroke-width="1"/>
<rect x="213.40" y="368.40" width="5.6" height="5.6" fill="#fff" stroke="#2a2a2a" stroke-width="1"/>
<rect x="199.40" y="371.60" width="5.6" height="5.6" fill="#fff" stroke="#2a2a2a" stroke-width="1"/>
<rect x="206.40" y="372.40" width="5.6" height="5.6" fill="#fff" stroke="#2a2a2a" stroke-width="1"/>
<rect x="203.20" y="391.00" width="5.6" height="5.6" fill="#fff" stroke="#2a2a2a" stroke-width="1"/>
<rect x="210.10" y="391.60" width="5.6" height="5.6" fill="#fff" stroke="#2a2a2a" stroke-width="1"/>
<rect x="196.30" y="394.40" width="5.6" height="5.6" fill="#fff" stroke="#2a2a2a" stroke-width="1"/>
<rect x="218.90" y="395.50" width="5.6" height="5.6" fill="#fff" stroke="#2a2a2a" stroke-width="1"/>
<rect x="203.20" y="399.10" width="5.6" height="5.6" fill="#fff" stroke="#2a2a2a" stroke-width="1"/>
<rect x="210.10" y="398.70" width="5.6" height="5.6" fill="#fff" stroke="#2a2a2a" stroke-width="1"/>
<rect x="196.30" y="402.20" width="5.6" height="5.6" fill="#fff" stroke="#2a2a2a" stroke-width="1"/>
<rect x="203.20" y="409.10" width="5.6" height="5.6" fill="#fff" stroke="#2a2a2a" stroke-width="1"/>
<rect x="210.10" y="410.70" width="5.6" height="5.6" fill="#fff" stroke="#2a2a2a" stroke-width="1"/>
<rect x="249.30" y="393.00" width="5.6" height="5.6" fill="#fff" stroke="#2a2a2a" stroke-width="1"/>
<rect x="301.00" y="372.80" width="5.6" height="5.6" fill="#fff" stroke="#2a2a2a" stroke-width="1"/>
<rect x="340.10" y="382.80" width="5.6" height="5.6" fill="#fff" stroke="#2a2a2a" stroke-width="1"/>
<rect x="350.00" y="369.60" width="5.6" height="5.6" fill="#fff" stroke="#2a2a2a" stroke-width="1"/>
<rect x="368.90" y="372.80" width="5.6" height="5.6" fill="#fff" stroke="#2a2a2a" stroke-width="1"/>
<rect x="404.70" y="376.90" width="5.6" height="5.6" fill="#fff" stroke="#2a2a2a" stroke-width="1"/>
<rect x="466.50" y="369.50" width="5.6" height="5.6" fill="#fff" stroke="#2a2a2a" stroke-width="1"/>
<rect x="492.40" y="365.20" width="5.6" height="5.6" fill="#fff" stroke="#2a2a2a" stroke-width="1"/>
<rect x="495.50" y="360.00" width="5.6" height="5.6" fill="#fff" stroke="#2a2a2a" stroke-width="1"/>
<path d="M484.8 348.3 L493.4 356.7 M488.12 356.20 L493.4 356.7 L492.78 351.44" fill="none" stroke="#1a1a1a" stroke-width="0.95" stroke-linejoin="round"/>
<circle cx="493.4" cy="356.7" r="0.8" fill="#111"/>
<path d="M479.4 356.7 L488.0 365.6 M482.74 364.95 L488.0 365.6 L487.53 360.32" fill="none" stroke="#1a1a1a" stroke-width="0.95" stroke-linejoin="round"/>
<circle cx="488.0" cy="365.6" r="0.8" fill="#111"/>
<path d="M488.8 391.7 L497.5 383.6 M496.75 388.85 L497.5 383.6 L492.21 383.97" fill="none" stroke="#1a1a1a" stroke-width="0.95" stroke-linejoin="round"/>
<circle cx="497.5" cy="383.6" r="0.8" fill="#111"/>
<path d="M496.3 393.3 L504.8 385.2 M504.12 390.46 L504.8 385.2 L499.52 385.63" fill="none" stroke="#1a1a1a" stroke-width="0.95" stroke-linejoin="round"/>
<circle cx="504.8" cy="385.2" r="0.8" fill="#111"/>
<line x1="102.2" y1="716.5" x2="507.4" y2="716.5" stroke="#bdbdbd" stroke-width="1"/>
<line x1="102.2" y1="716.5" x2="507.4" y2="716.5" stroke="#222" stroke-width="1" stroke-dasharray="1.2 1"/>
<line x1="247.0" y1="612.8" x2="247.0" y2="845.7" stroke="#cfcfcf" stroke-width="1"/>
<line x1="247.0" y1="612.8" x2="247.0" y2="845.7" stroke="#222" stroke-width="1" stroke-dasharray="1.2 1"/>
<path d="M102.2 845.7 V612.8 H507.4 V845.7 Z" fill="none" stroke="#141414" stroke-width="1.6"/>
<line x1="95.2" y1="845.70" x2="102.2" y2="845.70" stroke="#141414" stroke-width="1.3"/>
<line x1="97.2" y1="822.33" x2="102.2" y2="822.33" stroke="#141414" stroke-width="1.1"/>
<line x1="97.2" y1="808.66" x2="102.2" y2="808.66" stroke="#141414" stroke-width="1.1"/>
<line x1="97.2" y1="798.96" x2="102.2" y2="798.96" stroke="#141414" stroke-width="1.1"/>
<line x1="97.2" y1="791.44" x2="102.2" y2="791.44" stroke="#141414" stroke-width="1.1"/>
<line x1="97.2" y1="785.29" x2="102.2" y2="785.29" stroke="#141414" stroke-width="1.1"/>
<line x1="97.2" y1="780.09" x2="102.2" y2="780.09" stroke="#141414" stroke-width="1.1"/>
<line x1="97.2" y1="775.59" x2="102.2" y2="775.59" stroke="#141414" stroke-width="1.1"/>
<line x1="97.2" y1="771.62" x2="102.2" y2="771.62" stroke="#141414" stroke-width="1.1"/>
<line x1="95.2" y1="768.07" x2="102.2" y2="768.07" stroke="#141414" stroke-width="1.3"/>
<line x1="97.2" y1="744.70" x2="102.2" y2="744.70" stroke="#141414" stroke-width="1.1"/>
<line x1="97.2" y1="731.03" x2="102.2" y2="731.03" stroke="#141414" stroke-width="1.1"/>
<line x1="97.2" y1="721.33" x2="102.2" y2="721.33" stroke="#141414" stroke-width="1.1"/>
<line x1="97.2" y1="713.80" x2="102.2" y2="713.80" stroke="#141414" stroke-width="1.1"/>
<line x1="97.2" y1="707.66" x2="102.2" y2="707.66" stroke="#141414" stroke-width="1.1"/>
<line x1="97.2" y1="702.46" x2="102.2" y2="702.46" stroke="#141414" stroke-width="1.1"/>
<line x1="97.2" y1="697.96" x2="102.2" y2="697.96" stroke="#141414" stroke-width="1.1"/>
<line x1="97.2" y1="693.99" x2="102.2" y2="693.99" stroke="#141414" stroke-width="1.1"/>
<line x1="95.2" y1="690.43" x2="102.2" y2="690.43" stroke="#141414" stroke-width="1.3"/>
<line x1="97.2" y1="667.06" x2="102.2" y2="667.06" stroke="#141414" stroke-width="1.1"/>
<line x1="97.2" y1="653.39" x2="102.2" y2="653.39" stroke="#141414" stroke-width="1.1"/>
<line x1="97.2" y1="643.69" x2="102.2" y2="643.69" stroke="#141414" stroke-width="1.1"/>
<line x1="97.2" y1="636.17" x2="102.2" y2="636.17" stroke="#141414" stroke-width="1.1"/>
<line x1="97.2" y1="630.02" x2="102.2" y2="630.02" stroke="#141414" stroke-width="1.1"/>
<line x1="97.2" y1="624.83" x2="102.2" y2="624.83" stroke="#141414" stroke-width="1.1"/>
<line x1="97.2" y1="620.32" x2="102.2" y2="620.32" stroke="#141414" stroke-width="1.1"/>
<line x1="97.2" y1="616.35" x2="102.2" y2="616.35" stroke="#141414" stroke-width="1.1"/>
<line x1="95.2" y1="612.80" x2="102.2" y2="612.80" stroke="#141414" stroke-width="1.3"/>
<line x1="246.80" y1="845.7" x2="246.80" y2="850.9000000000001" stroke="#141414" stroke-width="1.0"/>
<line x1="277.80" y1="845.7" x2="277.80" y2="850.9000000000001" stroke="#141414" stroke-width="1.0"/>
<line x1="311.00" y1="845.7" x2="311.00" y2="850.9000000000001" stroke="#141414" stroke-width="1.0"/>
<line x1="343.80" y1="845.7" x2="343.80" y2="850.9000000000001" stroke="#141414" stroke-width="1.0"/>
<line x1="376.40" y1="845.7" x2="376.40" y2="850.9000000000001" stroke="#141414" stroke-width="1.0"/>
<line x1="409.00" y1="845.7" x2="409.00" y2="850.9000000000001" stroke="#141414" stroke-width="1.0"/>
<line x1="441.30" y1="845.7" x2="441.30" y2="850.9000000000001" stroke="#141414" stroke-width="1.0"/>
<line x1="475.70" y1="845.7" x2="475.70" y2="850.9000000000001" stroke="#141414" stroke-width="1.0"/>
<line x1="507.40" y1="845.7" x2="507.40" y2="850.9000000000001" stroke="#141414" stroke-width="1.0"/>
<text x="94.00" y="617.00" font-size="14" text-anchor="end">10</text>
<text x="91.90" y="694.63" font-size="14" text-anchor="end">1</text>
<text x="91.90" y="772.27" font-size="14" text-anchor="end">0.1</text>
<text x="91.90" y="849.90" font-size="14" text-anchor="end">0.01</text>
<text x="244.72" y="866.50" font-size="14.5" textLength="17.36" lengthAdjust="spacingAndGlyphs">20</text>
<text x="302.81" y="866.50" font-size="14.5" textLength="16.24" lengthAdjust="spacingAndGlyphs">40</text>
<text x="367.85" y="866.50" font-size="14.5" textLength="16.71" lengthAdjust="spacingAndGlyphs">60</text>
<text x="431.61" y="866.50" font-size="14.5" textLength="16.96" lengthAdjust="spacingAndGlyphs">80</text>
<text x="493.61" y="866.50" font-size="14.5" textLength="24.25" lengthAdjust="spacingAndGlyphs">100</text>
<rect x="101.60000000000001" y="848.70" width="140.60" height="17.2" fill="none" stroke="#555" stroke-width="1.1"/>
<text x="147.50" y="861.40" font-size="14.5" textLength="40.27" lengthAdjust="spacingAndGlyphs">&lt; 20%</text>
<text transform="translate(31.80,781.00) rotate(-90)" font-size="16" textLength="98.63" lengthAdjust="spacingAndGlyphs">Antigen assay</text>
<text transform="translate(52.00,849.65) rotate(-90)" font-size="16" textLength="235.30" lengthAdjust="spacingAndGlyphs">(antiplatelet factor 4/heparin, OD)</text>
<text x="115.20" y="889.60" font-size="14" textLength="65.90" lengthAdjust="spacingAndGlyphs">Activation</text>
<text x="187.53" y="889.60" font-size="14" textLength="37.51" lengthAdjust="spacingAndGlyphs">assay</text>
<text x="228.62" y="889.60" font-size="14" textLength="60.02" lengthAdjust="spacingAndGlyphs">(percent</text>
<text x="305.05" y="889.60" font-size="14" textLength="15.83" lengthAdjust="spacingAndGlyphs">C-</text>
<text x="323.74" y="889.60" font-size="14" textLength="63.76" lengthAdjust="spacingAndGlyphs">serotonin</text>
<text x="395.18" y="889.60" font-size="14" textLength="56.60" lengthAdjust="spacingAndGlyphs">release)</text>
<text x="293.42" y="882.00" font-size="9.8" textLength="11.51" lengthAdjust="spacingAndGlyphs">14</text>
<rect x="276.3" y="779.3" width="214" height="55.1" fill="#fff" stroke="#2a2a2a" stroke-width="1.2"/>
<text x="357.77" y="795.30" font-size="14" textLength="50.31" lengthAdjust="spacingAndGlyphs">Cardiac</text>
<text x="311.07" y="810.80" font-size="14" textLength="143.10" lengthAdjust="spacingAndGlyphs">unfractionated heparin</text>
<text x="365.86" y="828.00" font-size="14" textLength="50.36" lengthAdjust="spacingAndGlyphs">Study C</text>
<path d="M352.00 821.45 L355.30 826.35 L348.70 826.35 Z" fill="#9a9a9a" stroke="#151515" stroke-width="1.05" stroke-linejoin="miter"/>
<path d="M168.60 669.20 L171.90 674.20 L165.30 674.20 Z" fill="#9a9a9a" stroke="#151515" stroke-width="1.05" stroke-linejoin="miter"/>
<path d="M174.00 673.80 L177.30 678.80 L170.70 678.80 Z" fill="#9a9a9a" stroke="#151515" stroke-width="1.05" stroke-linejoin="miter"/>
<path d="M149.20 682.70 L152.50 687.70 L145.90 687.70 Z" fill="#9a9a9a" stroke="#151515" stroke-width="1.05" stroke-linejoin="miter"/>
<path d="M163.10 679.20 L166.40 684.20 L159.80 684.20 Z" fill="#9a9a9a" stroke="#151515" stroke-width="1.05" stroke-linejoin="miter"/>
<path d="M155.00 686.10 L158.30 691.10 L151.70 691.10 Z" fill="#9a9a9a" stroke="#151515" stroke-width="1.05" stroke-linejoin="miter"/>
<path d="M161.90 685.00 L165.20 690.00 L158.60 690.00 Z" fill="#9a9a9a" stroke="#151515" stroke-width="1.05" stroke-linejoin="miter"/>
<path d="M168.60 682.70 L171.90 687.70 L165.30 687.70 Z" fill="#9a9a9a" stroke="#151515" stroke-width="1.05" stroke-linejoin="miter"/>
<path d="M175.80 682.70 L179.10 687.70 L172.50 687.70 Z" fill="#9a9a9a" stroke="#151515" stroke-width="1.05" stroke-linejoin="miter"/>
<path d="M181.00 686.70 L184.30 691.70 L177.70 691.70 Z" fill="#9a9a9a" stroke="#151515" stroke-width="1.05" stroke-linejoin="miter"/>
<path d="M186.20 683.30 L189.50 688.30 L182.90 688.30 Z" fill="#9a9a9a" stroke="#151515" stroke-width="1.05" stroke-linejoin="miter"/>
<path d="M161.90 693.70 L165.20 698.70 L158.60 698.70 Z" fill="#9a9a9a" stroke="#151515" stroke-width="1.05" stroke-linejoin="miter"/>
<path d="M168.60 691.30 L171.90 696.30 L165.30 696.30 Z" fill="#9a9a9a" stroke="#151515" stroke-width="1.05" stroke-linejoin="miter"/>
<path d="M175.50 693.70 L178.80 698.70 L172.20 698.70 Z" fill="#9a9a9a" stroke="#151515" stroke-width="1.05" stroke-linejoin="miter"/>
<path d="M156.70 696.90 L160.00 701.90 L153.40 701.90 Z" fill="#9a9a9a" stroke="#151515" stroke-width="1.05" stroke-linejoin="miter"/>
<path d="M169.10 696.90 L172.40 701.90 L165.80 701.90 Z" fill="#9a9a9a" stroke="#151515" stroke-width="1.05" stroke-linejoin="miter"/>
<path d="M174.60 701.10 L177.90 706.10 L171.30 706.10 Z" fill="#9a9a9a" stroke="#151515" stroke-width="1.05" stroke-linejoin="miter"/>
<path d="M181.00 699.20 L184.30 704.20 L177.70 704.20 Z" fill="#9a9a9a" stroke="#151515" stroke-width="1.05" stroke-linejoin="miter"/>
<path d="M149.80 705.80 L153.10 710.80 L146.50 710.80 Z" fill="#9a9a9a" stroke="#151515" stroke-width="1.05" stroke-linejoin="miter"/>
<path d="M145.20 709.20 L148.50 714.20 L141.90 714.20 Z" fill="#9a9a9a" stroke="#151515" stroke-width="1.05" stroke-linejoin="miter"/>
<path d="M155.60 706.90 L158.90 711.90 L152.30 711.90 Z" fill="#9a9a9a" stroke="#151515" stroke-width="1.05" stroke-linejoin="miter"/>
<path d="M161.90 705.80 L165.20 710.80 L158.60 710.80 Z" fill="#9a9a9a" stroke="#151515" stroke-width="1.05" stroke-linejoin="miter"/>
<path d="M169.40 705.40 L172.70 710.40 L166.10 710.40 Z" fill="#9a9a9a" stroke="#151515" stroke-width="1.05" stroke-linejoin="miter"/>
<path d="M176.90 707.50 L180.20 712.50 L173.60 712.50 Z" fill="#9a9a9a" stroke="#151515" stroke-width="1.05" stroke-linejoin="miter"/>
<path d="M165.20 711.50 L168.50 716.50 L161.90 716.50 Z" fill="#9a9a9a" stroke="#151515" stroke-width="1.05" stroke-linejoin="miter"/>
<path d="M174.00 712.10 L177.30 717.10 L170.70 717.10 Z" fill="#9a9a9a" stroke="#151515" stroke-width="1.05" stroke-linejoin="miter"/>
<path d="M181.50 711.50 L184.80 716.50 L178.20 716.50 Z" fill="#9a9a9a" stroke="#151515" stroke-width="1.05" stroke-linejoin="miter"/>
<path d="M186.20 707.50 L189.50 712.50 L182.90 712.50 Z" fill="#9a9a9a" stroke="#151515" stroke-width="1.05" stroke-linejoin="miter"/>
<path d="M191.90 705.40 L195.20 710.40 L188.60 710.40 Z" fill="#9a9a9a" stroke="#151515" stroke-width="1.05" stroke-linejoin="miter"/>
<path d="M197.10 708.10 L200.40 713.10 L193.80 713.10 Z" fill="#9a9a9a" stroke="#151515" stroke-width="1.05" stroke-linejoin="miter"/>
<path d="M153.10 716.10 L156.40 721.10 L149.80 721.10 Z" fill="#9a9a9a" stroke="#151515" stroke-width="1.05" stroke-linejoin="miter"/>
<path d="M160.30 716.10 L163.60 721.10 L157.00 721.10 Z" fill="#9a9a9a" stroke="#151515" stroke-width="1.05" stroke-linejoin="miter"/>
<path d="M167.90 716.10 L171.20 721.10 L164.60 721.10 Z" fill="#9a9a9a" stroke="#151515" stroke-width="1.05" stroke-linejoin="miter"/>
<path d="M175.80 716.10 L179.10 721.10 L172.50 721.10 Z" fill="#9a9a9a" stroke="#151515" stroke-width="1.05" stroke-linejoin="miter"/>
<path d="M184.30 716.10 L187.60 721.10 L181.00 721.10 Z" fill="#9a9a9a" stroke="#151515" stroke-width="1.05" stroke-linejoin="miter"/>
<path d="M127.70 720.80 L131.00 725.80 L124.40 725.80 Z" fill="#9a9a9a" stroke="#151515" stroke-width="1.05" stroke-linejoin="miter"/>
<path d="M135.10 720.80 L138.40 725.80 L131.80 725.80 Z" fill="#9a9a9a" stroke="#151515" stroke-width="1.05" stroke-linejoin="miter"/>
<path d="M142.40 720.80 L145.70 725.80 L139.10 725.80 Z" fill="#9a9a9a" stroke="#151515" stroke-width="1.05" stroke-linejoin="miter"/>
<path d="M149.50 720.80 L152.80 725.80 L146.20 725.80 Z" fill="#9a9a9a" stroke="#151515" stroke-width="1.05" stroke-linejoin="miter"/>
<path d="M157.10 720.80 L160.40 725.80 L153.80 725.80 Z" fill="#9a9a9a" stroke="#151515" stroke-width="1.05" stroke-linejoin="miter"/>
<path d="M164.90 720.80 L168.20 725.80 L161.60 725.80 Z" fill="#9a9a9a" stroke="#151515" stroke-width="1.05" stroke-linejoin="miter"/>
<path d="M172.70 720.80 L176.00 725.80 L169.40 725.80 Z" fill="#9a9a9a" stroke="#151515" stroke-width="1.05" stroke-linejoin="miter"/>
<path d="M180.10 720.80 L183.40 725.80 L176.80 725.80 Z" fill="#9a9a9a" stroke="#151515" stroke-width="1.05" stroke-linejoin="miter"/>
<path d="M187.40 720.80 L190.70 725.80 L184.10 725.80 Z" fill="#9a9a9a" stroke="#151515" stroke-width="1.05" stroke-linejoin="miter"/>
<path d="M194.90 720.80 L198.20 725.80 L191.60 725.80 Z" fill="#9a9a9a" stroke="#151515" stroke-width="1.05" stroke-linejoin="miter"/>
<path d="M202.10 720.80 L205.40 725.80 L198.80 725.80 Z" fill="#9a9a9a" stroke="#151515" stroke-width="1.05" stroke-linejoin="miter"/>
<path d="M209.50 720.80 L212.80 725.80 L206.20 725.80 Z" fill="#9a9a9a" stroke="#151515" stroke-width="1.05" stroke-linejoin="miter"/>
<path d="M216.10 720.80 L219.40 725.80 L212.80 725.80 Z" fill="#9a9a9a" stroke="#151515" stroke-width="1.05" stroke-linejoin="miter"/>
<path d="M123.90 725.80 L127.20 730.80 L120.60 730.80 Z" fill="#9a9a9a" stroke="#151515" stroke-width="1.05" stroke-linejoin="miter"/>
<path d="M131.50 725.80 L134.80 730.80 L128.20 730.80 Z" fill="#9a9a9a" stroke="#151515" stroke-width="1.05" stroke-linejoin="miter"/>
<path d="M138.70 725.80 L142.00 730.80 L135.40 730.80 Z" fill="#9a9a9a" stroke="#151515" stroke-width="1.05" stroke-linejoin="miter"/>
<path d="M146.20 725.80 L149.50 730.80 L142.90 730.80 Z" fill="#9a9a9a" stroke="#151515" stroke-width="1.05" stroke-linejoin="miter"/>
<path d="M153.90 725.80 L157.20 730.80 L150.60 730.80 Z" fill="#9a9a9a" stroke="#151515" stroke-width="1.05" stroke-linejoin="miter"/>
<path d="M161.70 725.80 L165.00 730.80 L158.40 730.80 Z" fill="#9a9a9a" stroke="#151515" stroke-width="1.05" stroke-linejoin="miter"/>
<path d="M169.60 725.80 L172.90 730.80 L166.30 730.80 Z" fill="#9a9a9a" stroke="#151515" stroke-width="1.05" stroke-linejoin="miter"/>
<path d="M177.10 725.80 L180.40 730.80 L173.80 730.80 Z" fill="#9a9a9a" stroke="#151515" stroke-width="1.05" stroke-linejoin="miter"/>
<path d="M184.70 725.80 L188.00 730.80 L181.40 730.80 Z" fill="#9a9a9a" stroke="#151515" stroke-width="1.05" stroke-linejoin="miter"/>
<path d="M192.20 725.80 L195.50 730.80 L188.90 730.80 Z" fill="#9a9a9a" stroke="#151515" stroke-width="1.05" stroke-linejoin="miter"/>
<path d="M199.60 725.80 L202.90 730.80 L196.30 730.80 Z" fill="#9a9a9a" stroke="#151515" stroke-width="1.05" stroke-linejoin="miter"/>
<path d="M206.70 725.80 L210.00 730.80 L203.40 730.80 Z" fill="#9a9a9a" stroke="#151515" stroke-width="1.05" stroke-linejoin="miter"/>
<path d="M213.20 725.80 L216.50 730.80 L209.90 730.80 Z" fill="#9a9a9a" stroke="#151515" stroke-width="1.05" stroke-linejoin="miter"/>
<path d="M128.10 734.60 L131.40 739.60 L124.80 739.60 Z" fill="#9a9a9a" stroke="#151515" stroke-width="1.05" stroke-linejoin="miter"/>
<path d="M135.70 734.60 L139.00 739.60 L132.40 739.60 Z" fill="#9a9a9a" stroke="#151515" stroke-width="1.05" stroke-linejoin="miter"/>
<path d="M143.60 734.60 L146.90 739.60 L140.30 739.60 Z" fill="#9a9a9a" stroke="#151515" stroke-width="1.05" stroke-linejoin="miter"/>
<path d="M151.40 734.60 L154.70 739.60 L148.10 739.60 Z" fill="#9a9a9a" stroke="#151515" stroke-width="1.05" stroke-linejoin="miter"/>
<path d="M159.40 734.60 L162.70 739.60 L156.10 739.60 Z" fill="#9a9a9a" stroke="#151515" stroke-width="1.05" stroke-linejoin="miter"/>
<path d="M166.80 734.60 L170.10 739.60 L163.50 739.60 Z" fill="#9a9a9a" stroke="#151515" stroke-width="1.05" stroke-linejoin="miter"/>
<path d="M174.70 734.60 L178.00 739.60 L171.40 739.60 Z" fill="#9a9a9a" stroke="#151515" stroke-width="1.05" stroke-linejoin="miter"/>
<path d="M181.60 734.60 L184.90 739.60 L178.30 739.60 Z" fill="#9a9a9a" stroke="#151515" stroke-width="1.05" stroke-linejoin="miter"/>
<path d="M189.00 734.60 L192.30 739.60 L185.70 739.60 Z" fill="#9a9a9a" stroke="#151515" stroke-width="1.05" stroke-linejoin="miter"/>
<path d="M196.40 734.60 L199.70 739.60 L193.10 739.60 Z" fill="#9a9a9a" stroke="#151515" stroke-width="1.05" stroke-linejoin="miter"/>
<path d="M203.90 734.60 L207.20 739.60 L200.60 739.60 Z" fill="#9a9a9a" stroke="#151515" stroke-width="1.05" stroke-linejoin="miter"/>
<path d="M210.20 734.60 L213.50 739.60 L206.90 739.60 Z" fill="#9a9a9a" stroke="#151515" stroke-width="1.05" stroke-linejoin="miter"/>
<path d="M152.70 753.60 L156.00 758.60 L149.40 758.60 Z" fill="#9a9a9a" stroke="#151515" stroke-width="1.05" stroke-linejoin="miter"/>
<path d="M159.80 753.60 L163.10 758.60 L156.50 758.60 Z" fill="#9a9a9a" stroke="#151515" stroke-width="1.05" stroke-linejoin="miter"/>
<path d="M167.90 753.60 L171.20 758.60 L164.60 758.60 Z" fill="#9a9a9a" stroke="#151515" stroke-width="1.05" stroke-linejoin="miter"/>
<path d="M175.70 753.60 L179.00 758.60 L172.40 758.60 Z" fill="#9a9a9a" stroke="#151515" stroke-width="1.05" stroke-linejoin="miter"/>
<path d="M183.80 753.60 L187.10 758.60 L180.50 758.60 Z" fill="#9a9a9a" stroke="#151515" stroke-width="1.05" stroke-linejoin="miter"/>
<path d="M168.90 775.60 L172.20 780.60 L165.60 780.60 Z" fill="#9a9a9a" stroke="#151515" stroke-width="1.05" stroke-linejoin="miter"/>
<path d="M168.90 786.40 L172.20 791.40 L165.60 791.40 Z" fill="#9a9a9a" stroke="#151515" stroke-width="1.05" stroke-linejoin="miter"/>
<path d="M255.60 699.00 L258.90 704.00 L252.30 704.00 Z" fill="#9a9a9a" stroke="#151515" stroke-width="1.05" stroke-linejoin="miter"/>
<path d="M269.60 701.70 L272.90 706.70 L266.30 706.70 Z" fill="#9a9a9a" stroke="#151515" stroke-width="1.05" stroke-linejoin="miter"/>
<path d="M304.60 705.50 L307.90 710.50 L301.30 710.50 Z" fill="#9a9a9a" stroke="#151515" stroke-width="1.05" stroke-linejoin="miter"/>
<path d="M334.80 703.60 L338.10 708.60 L331.50 708.60 Z" fill="#9a9a9a" stroke="#151515" stroke-width="1.05" stroke-linejoin="miter"/>
<path d="M350.70 690.20 L354.00 695.20 L347.40 695.20 Z" fill="#9a9a9a" stroke="#151515" stroke-width="1.05" stroke-linejoin="miter"/>
<path d="M370.60 688.80 L373.90 693.80 L367.30 693.80 Z" fill="#9a9a9a" stroke="#151515" stroke-width="1.05" stroke-linejoin="miter"/>
<path d="M403.70 710.70 L407.00 715.70 L400.40 715.70 Z" fill="#9a9a9a" stroke="#151515" stroke-width="1.05" stroke-linejoin="miter"/>
<path d="M425.80 696.20 L429.10 701.20 L422.50 701.20 Z" fill="#9a9a9a" stroke="#151515" stroke-width="1.05" stroke-linejoin="miter"/>
<path d="M424.40 701.60 L427.70 706.60 L421.10 706.60 Z" fill="#9a9a9a" stroke="#151515" stroke-width="1.05" stroke-linejoin="miter"/>
<path d="M472.30 659.80 L475.60 664.80 L469.00 664.80 Z" fill="#9a9a9a" stroke="#151515" stroke-width="1.05" stroke-linejoin="miter"/>
<path d="M471.90 666.60 L475.20 671.60 L468.60 671.60 Z" fill="#9a9a9a" stroke="#151515" stroke-width="1.05" stroke-linejoin="miter"/>
<path d="M465.40 668.80 L468.70 673.80 L462.10 673.80 Z" fill="#9a9a9a" stroke="#151515" stroke-width="1.05" stroke-linejoin="miter"/>
<path d="M481.30 669.00 L484.60 674.00 L478.00 674.00 Z" fill="#9a9a9a" stroke="#151515" stroke-width="1.05" stroke-linejoin="miter"/>
<path d="M500.60 665.60 L503.90 670.60 L497.30 670.60 Z" fill="#9a9a9a" stroke="#151515" stroke-width="1.05" stroke-linejoin="miter"/>
<path d="M471.50 677.30 L474.80 682.30 L468.20 682.30 Z" fill="#9a9a9a" stroke="#151515" stroke-width="1.05" stroke-linejoin="miter"/>
<path d="M458.50 680.60 L461.80 685.60 L455.20 685.60 Z" fill="#9a9a9a" stroke="#151515" stroke-width="1.05" stroke-linejoin="miter"/>
<path d="M458.80 684.40 L462.10 689.40 L455.50 689.40 Z" fill="#9a9a9a" stroke="#151515" stroke-width="1.05" stroke-linejoin="miter"/>
<path d="M455.30 686.50 L458.60 691.50 L452.00 691.50 Z" fill="#9a9a9a" stroke="#151515" stroke-width="1.05" stroke-linejoin="miter"/>
<path d="M481.50 686.30 L484.80 691.30 L478.20 691.30 Z" fill="#9a9a9a" stroke="#151515" stroke-width="1.05" stroke-linejoin="miter"/>
<path d="M484.40 698.50 L487.70 703.50 L481.10 703.50 Z" fill="#9a9a9a" stroke="#151515" stroke-width="1.05" stroke-linejoin="miter"/>
<path d="M459.8 648.1 L468.5 656.5 M463.22 656.03 L468.5 656.5 L467.85 651.24" fill="none" stroke="#1a1a1a" stroke-width="0.95" stroke-linejoin="round"/>
<circle cx="468.5" cy="656.5" r="0.8" fill="#111"/>
</svg>
</body></html>
